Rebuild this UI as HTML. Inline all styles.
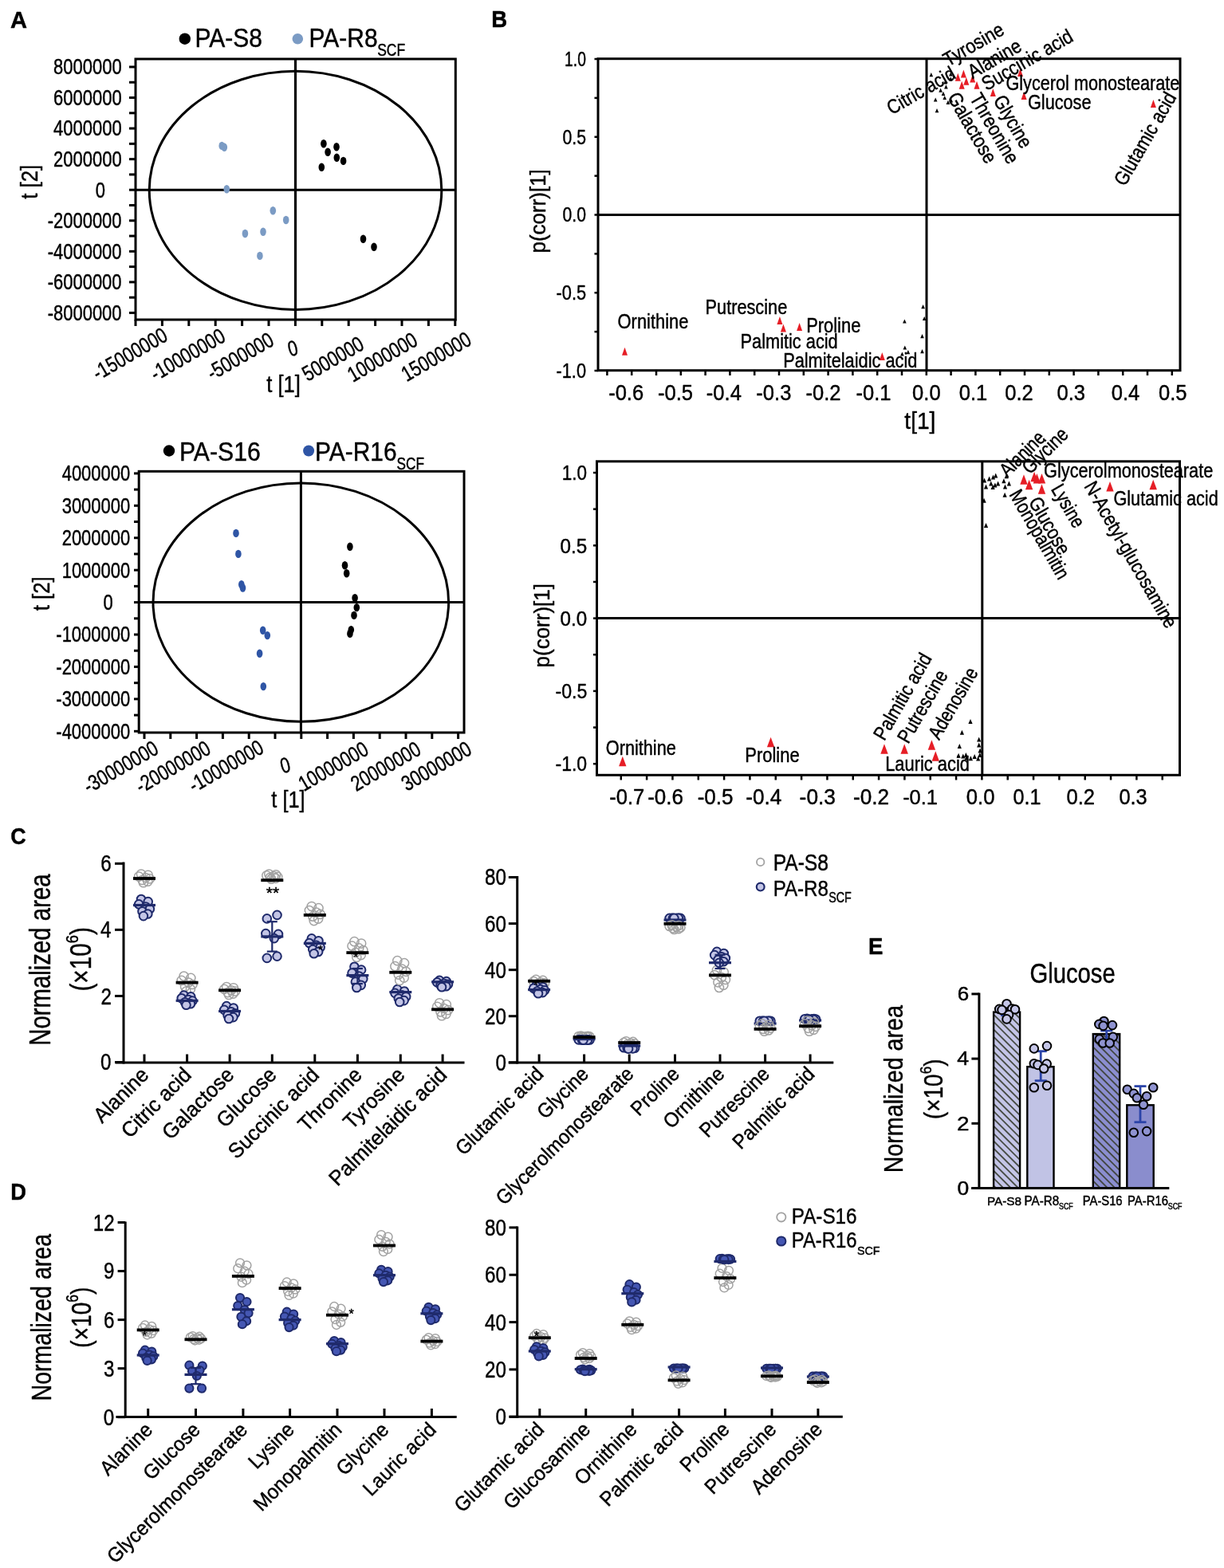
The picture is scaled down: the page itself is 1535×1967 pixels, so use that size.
<!DOCTYPE html>
<html><head><meta charset="utf-8"><title>Figure</title>
<style>html,body{margin:0;padding:0;background:#fff;}svg{display:block;}</style></head>
<body><svg width="1535" height="1967" viewBox="0 0 1535 1967" font-family="'Liberation Sans', Arial, Helvetica, sans-serif">
<style>text{stroke:#000;stroke-width:0.45px;stroke-linejoin:round;}</style>
<rect width="1535" height="1967" fill="#fff"/>
<text transform="translate(12.97,34.80) scale(1.0041,1)" font-size="28.99" font-weight="bold">A</text>
<circle cx="231.80" cy="48.70" r="7.20" fill="#000" stroke="none" stroke-width="0"/>
<text transform="translate(244.50,59.00) scale(0.8969,1)" font-size="33.43">PA-S8</text>
<circle cx="373.30" cy="48.70" r="6.80" fill="#7b9bc4" stroke="none" stroke-width="0"/>
<text transform="translate(387.61,59.00) scale(0.8953,1)" font-size="33.43">PA-R8</text>
<text transform="translate(473.21,69.50) scale(0.7850,1)" font-size="22.29">SCF</text>
<rect x="170.00" y="74.00" width="401.30" height="327.00" fill="none" stroke="#000" stroke-width="3"/>
<line x1="170.00" y1="238.20" x2="571.30" y2="238.20" stroke="#000" stroke-width="3" stroke-linecap="butt"/>
<line x1="370.50" y1="74.00" x2="370.50" y2="401.00" stroke="#000" stroke-width="3.2" stroke-linecap="butt"/>
<ellipse cx="370.50" cy="238.80" rx="183.30" ry="149.60" fill="none" stroke="#000" stroke-width="3"/>
<line x1="162.00" y1="392.44" x2="170.00" y2="392.44" stroke="#000" stroke-width="3" stroke-linecap="butt"/>
<line x1="162.00" y1="373.16" x2="170.00" y2="373.16" stroke="#000" stroke-width="3" stroke-linecap="butt"/>
<line x1="162.00" y1="353.88" x2="170.00" y2="353.88" stroke="#000" stroke-width="3" stroke-linecap="butt"/>
<line x1="162.00" y1="334.60" x2="170.00" y2="334.60" stroke="#000" stroke-width="3" stroke-linecap="butt"/>
<line x1="162.00" y1="315.32" x2="170.00" y2="315.32" stroke="#000" stroke-width="3" stroke-linecap="butt"/>
<line x1="162.00" y1="296.04" x2="170.00" y2="296.04" stroke="#000" stroke-width="3" stroke-linecap="butt"/>
<line x1="162.00" y1="276.76" x2="170.00" y2="276.76" stroke="#000" stroke-width="3" stroke-linecap="butt"/>
<line x1="162.00" y1="257.48" x2="170.00" y2="257.48" stroke="#000" stroke-width="3" stroke-linecap="butt"/>
<line x1="162.00" y1="238.20" x2="170.00" y2="238.20" stroke="#000" stroke-width="3" stroke-linecap="butt"/>
<line x1="162.00" y1="218.92" x2="170.00" y2="218.92" stroke="#000" stroke-width="3" stroke-linecap="butt"/>
<line x1="162.00" y1="199.64" x2="170.00" y2="199.64" stroke="#000" stroke-width="3" stroke-linecap="butt"/>
<line x1="162.00" y1="180.36" x2="170.00" y2="180.36" stroke="#000" stroke-width="3" stroke-linecap="butt"/>
<line x1="162.00" y1="161.08" x2="170.00" y2="161.08" stroke="#000" stroke-width="3" stroke-linecap="butt"/>
<line x1="162.00" y1="141.80" x2="170.00" y2="141.80" stroke="#000" stroke-width="3" stroke-linecap="butt"/>
<line x1="162.00" y1="122.52" x2="170.00" y2="122.52" stroke="#000" stroke-width="3" stroke-linecap="butt"/>
<line x1="162.00" y1="103.24" x2="170.00" y2="103.24" stroke="#000" stroke-width="3" stroke-linecap="butt"/>
<line x1="162.00" y1="83.96" x2="170.00" y2="83.96" stroke="#000" stroke-width="3" stroke-linecap="butt"/>
<text transform="translate(59.71,401.82) rotate(0) scale(0.8080,1)" font-size="27.20">-8000000</text>
<text transform="translate(59.71,363.26) rotate(0) scale(0.8080,1)" font-size="27.20">-6000000</text>
<text transform="translate(59.71,324.70) rotate(0) scale(0.8080,1)" font-size="27.20">-4000000</text>
<text transform="translate(59.71,286.14) rotate(0) scale(0.8080,1)" font-size="27.20">-2000000</text>
<text transform="translate(119.85,247.58) rotate(0) scale(0.8080,1)" font-size="27.20">0</text>
<text transform="translate(67.08,209.02) rotate(0) scale(0.8080,1)" font-size="27.20">2000000</text>
<text transform="translate(67.08,170.46) rotate(0) scale(0.8080,1)" font-size="27.20">4000000</text>
<text transform="translate(67.08,131.90) rotate(0) scale(0.8080,1)" font-size="27.20">6000000</text>
<text transform="translate(67.08,93.34) rotate(0) scale(0.8080,1)" font-size="27.20">8000000</text>
<line x1="170.00" y1="401.00" x2="170.00" y2="409.00" stroke="#000" stroke-width="3" stroke-linecap="butt"/>
<line x1="203.40" y1="401.00" x2="203.40" y2="409.00" stroke="#000" stroke-width="3" stroke-linecap="butt"/>
<line x1="236.80" y1="401.00" x2="236.80" y2="409.00" stroke="#000" stroke-width="3" stroke-linecap="butt"/>
<line x1="270.20" y1="401.00" x2="270.20" y2="409.00" stroke="#000" stroke-width="3" stroke-linecap="butt"/>
<line x1="303.60" y1="401.00" x2="303.60" y2="409.00" stroke="#000" stroke-width="3" stroke-linecap="butt"/>
<line x1="337.00" y1="401.00" x2="337.00" y2="409.00" stroke="#000" stroke-width="3" stroke-linecap="butt"/>
<line x1="370.40" y1="401.00" x2="370.40" y2="409.00" stroke="#000" stroke-width="3" stroke-linecap="butt"/>
<line x1="403.80" y1="401.00" x2="403.80" y2="409.00" stroke="#000" stroke-width="3" stroke-linecap="butt"/>
<line x1="437.20" y1="401.00" x2="437.20" y2="409.00" stroke="#000" stroke-width="3" stroke-linecap="butt"/>
<line x1="470.60" y1="401.00" x2="470.60" y2="409.00" stroke="#000" stroke-width="3" stroke-linecap="butt"/>
<line x1="504.00" y1="401.00" x2="504.00" y2="409.00" stroke="#000" stroke-width="3" stroke-linecap="butt"/>
<line x1="537.40" y1="401.00" x2="537.40" y2="409.00" stroke="#000" stroke-width="3" stroke-linecap="butt"/>
<line x1="570.80" y1="401.00" x2="570.80" y2="409.00" stroke="#000" stroke-width="3" stroke-linecap="butt"/>
<text transform="translate(122.86,477.73) rotate(-30) scale(0.8000,1)" font-size="27.00">-15000000</text>
<text transform="translate(195.16,478.63) rotate(-30) scale(0.8000,1)" font-size="27.00">-10000000</text>
<text transform="translate(266.35,477.64) rotate(-30) scale(0.8000,1)" font-size="27.00">-5000000</text>
<text transform="translate(363.87,447.46) rotate(-15) scale(0.8000,1)" font-size="27.00">0</text>
<text transform="translate(385.73,479.10) rotate(-30) scale(0.8000,1)" font-size="27.00">5000000</text>
<text transform="translate(442.56,480.01) rotate(-30) scale(0.8000,1)" font-size="27.00">10000000</text>
<text transform="translate(509.96,479.31) rotate(-30) scale(0.8000,1)" font-size="27.00">15000000</text>
<text transform="translate(334.22,492.33) rotate(0) scale(0.8523,1)" font-size="30.00">t [1]</text>
<text transform="translate(47.43,249.77) rotate(-90) scale(0.8600,1)" font-size="30.00">t [2]</text>
<ellipse cx="405.90" cy="180.30" rx="3.80" ry="5.20" fill="#000" stroke="none" stroke-width="0"/>
<ellipse cx="422.00" cy="184.20" rx="3.80" ry="5.20" fill="#000" stroke="none" stroke-width="0"/>
<ellipse cx="411.10" cy="190.70" rx="3.80" ry="5.20" fill="#000" stroke="none" stroke-width="0"/>
<ellipse cx="422.30" cy="197.70" rx="3.80" ry="5.20" fill="#000" stroke="none" stroke-width="0"/>
<ellipse cx="430.60" cy="201.90" rx="3.80" ry="5.20" fill="#000" stroke="none" stroke-width="0"/>
<ellipse cx="403.30" cy="209.70" rx="3.80" ry="5.20" fill="#000" stroke="none" stroke-width="0"/>
<ellipse cx="455.50" cy="299.80" rx="3.80" ry="5.20" fill="#000" stroke="none" stroke-width="0"/>
<ellipse cx="469.00" cy="309.70" rx="3.80" ry="5.20" fill="#000" stroke="none" stroke-width="0"/>
<ellipse cx="278.20" cy="182.90" rx="3.80" ry="5.20" fill="#7b9bc4" stroke="none" stroke-width="0"/>
<ellipse cx="281.30" cy="184.70" rx="3.80" ry="5.20" fill="#7b9bc4" stroke="none" stroke-width="0"/>
<ellipse cx="284.30" cy="237.30" rx="3.80" ry="5.20" fill="#7b9bc4" stroke="none" stroke-width="0"/>
<ellipse cx="342.30" cy="264.30" rx="3.80" ry="5.20" fill="#7b9bc4" stroke="none" stroke-width="0"/>
<ellipse cx="358.70" cy="276.00" rx="3.80" ry="5.20" fill="#7b9bc4" stroke="none" stroke-width="0"/>
<ellipse cx="307.40" cy="293.00" rx="3.80" ry="5.20" fill="#7b9bc4" stroke="none" stroke-width="0"/>
<ellipse cx="330.00" cy="290.70" rx="3.80" ry="5.20" fill="#7b9bc4" stroke="none" stroke-width="0"/>
<ellipse cx="325.90" cy="320.90" rx="3.80" ry="5.20" fill="#7b9bc4" stroke="none" stroke-width="0"/>
<circle cx="212.00" cy="565.50" r="7.20" fill="#000" stroke="none" stroke-width="0"/>
<text transform="translate(224.99,577.80) scale(0.8878,1)" font-size="34.00">PA-S16</text>
<circle cx="387.10" cy="565.50" r="7.00" fill="#2f55a5" stroke="none" stroke-width="0"/>
<text transform="translate(395.11,577.80) scale(0.8792,1)" font-size="34.00">PA-R16</text>
<text transform="translate(497.52,589.00) scale(0.7833,1)" font-size="22.00">SCF</text>
<rect x="174.20" y="591.30" width="407.80" height="327.70" fill="none" stroke="#000" stroke-width="3"/>
<line x1="174.20" y1="755.60" x2="582.00" y2="755.60" stroke="#000" stroke-width="3" stroke-linecap="butt"/>
<line x1="377.40" y1="591.30" x2="377.40" y2="919.00" stroke="#000" stroke-width="3" stroke-linecap="butt"/>
<ellipse cx="377.30" cy="755.60" rx="185.30" ry="149.70" fill="none" stroke="#000" stroke-width="3"/>
<line x1="168.00" y1="917.32" x2="174.20" y2="917.32" stroke="#000" stroke-width="3" stroke-linecap="butt"/>
<line x1="168.00" y1="897.11" x2="174.20" y2="897.11" stroke="#000" stroke-width="3" stroke-linecap="butt"/>
<line x1="168.00" y1="876.89" x2="174.20" y2="876.89" stroke="#000" stroke-width="3" stroke-linecap="butt"/>
<line x1="168.00" y1="856.68" x2="174.20" y2="856.68" stroke="#000" stroke-width="3" stroke-linecap="butt"/>
<line x1="168.00" y1="836.46" x2="174.20" y2="836.46" stroke="#000" stroke-width="3" stroke-linecap="butt"/>
<line x1="168.00" y1="816.25" x2="174.20" y2="816.25" stroke="#000" stroke-width="3" stroke-linecap="butt"/>
<line x1="168.00" y1="796.03" x2="174.20" y2="796.03" stroke="#000" stroke-width="3" stroke-linecap="butt"/>
<line x1="168.00" y1="775.82" x2="174.20" y2="775.82" stroke="#000" stroke-width="3" stroke-linecap="butt"/>
<line x1="168.00" y1="755.60" x2="174.20" y2="755.60" stroke="#000" stroke-width="3" stroke-linecap="butt"/>
<line x1="168.00" y1="735.38" x2="174.20" y2="735.38" stroke="#000" stroke-width="3" stroke-linecap="butt"/>
<line x1="168.00" y1="715.17" x2="174.20" y2="715.17" stroke="#000" stroke-width="3" stroke-linecap="butt"/>
<line x1="168.00" y1="694.96" x2="174.20" y2="694.96" stroke="#000" stroke-width="3" stroke-linecap="butt"/>
<line x1="168.00" y1="674.74" x2="174.20" y2="674.74" stroke="#000" stroke-width="3" stroke-linecap="butt"/>
<line x1="168.00" y1="654.52" x2="174.20" y2="654.52" stroke="#000" stroke-width="3" stroke-linecap="butt"/>
<line x1="168.00" y1="634.31" x2="174.20" y2="634.31" stroke="#000" stroke-width="3" stroke-linecap="butt"/>
<line x1="168.00" y1="614.10" x2="174.20" y2="614.10" stroke="#000" stroke-width="3" stroke-linecap="butt"/>
<line x1="168.00" y1="593.88" x2="174.20" y2="593.88" stroke="#000" stroke-width="3" stroke-linecap="butt"/>
<text transform="translate(70.31,926.70) rotate(0) scale(0.8080,1)" font-size="27.20">-4000000</text>
<text transform="translate(70.31,886.27) rotate(0) scale(0.8080,1)" font-size="27.20">-3000000</text>
<text transform="translate(70.31,845.84) rotate(0) scale(0.8080,1)" font-size="27.20">-2000000</text>
<text transform="translate(70.31,805.41) rotate(0) scale(0.8080,1)" font-size="27.20">-1000000</text>
<text transform="translate(129.55,764.98) rotate(0) scale(0.8080,1)" font-size="27.20">0</text>
<text transform="translate(77.68,724.55) rotate(0) scale(0.8080,1)" font-size="27.20">1000000</text>
<text transform="translate(77.68,684.12) rotate(0) scale(0.8080,1)" font-size="27.20">2000000</text>
<text transform="translate(77.68,643.69) rotate(0) scale(0.8080,1)" font-size="27.20">3000000</text>
<text transform="translate(77.68,603.26) rotate(0) scale(0.8080,1)" font-size="27.20">4000000</text>
<line x1="181.00" y1="919.00" x2="181.00" y2="927.00" stroke="#000" stroke-width="3" stroke-linecap="butt"/>
<line x1="213.80" y1="919.00" x2="213.80" y2="927.00" stroke="#000" stroke-width="3" stroke-linecap="butt"/>
<line x1="246.60" y1="919.00" x2="246.60" y2="927.00" stroke="#000" stroke-width="3" stroke-linecap="butt"/>
<line x1="279.40" y1="919.00" x2="279.40" y2="927.00" stroke="#000" stroke-width="3" stroke-linecap="butt"/>
<line x1="312.20" y1="919.00" x2="312.20" y2="927.00" stroke="#000" stroke-width="3" stroke-linecap="butt"/>
<line x1="345.00" y1="919.00" x2="345.00" y2="927.00" stroke="#000" stroke-width="3" stroke-linecap="butt"/>
<line x1="377.80" y1="919.00" x2="377.80" y2="927.00" stroke="#000" stroke-width="3" stroke-linecap="butt"/>
<line x1="410.60" y1="919.00" x2="410.60" y2="927.00" stroke="#000" stroke-width="3" stroke-linecap="butt"/>
<line x1="443.40" y1="919.00" x2="443.40" y2="927.00" stroke="#000" stroke-width="3" stroke-linecap="butt"/>
<line x1="476.20" y1="919.00" x2="476.20" y2="927.00" stroke="#000" stroke-width="3" stroke-linecap="butt"/>
<line x1="509.00" y1="919.00" x2="509.00" y2="927.00" stroke="#000" stroke-width="3" stroke-linecap="butt"/>
<line x1="541.80" y1="919.00" x2="541.80" y2="927.00" stroke="#000" stroke-width="3" stroke-linecap="butt"/>
<line x1="574.60" y1="919.00" x2="574.60" y2="927.00" stroke="#000" stroke-width="3" stroke-linecap="butt"/>
<text transform="translate(111.36,995.93) rotate(-30) scale(0.8000,1)" font-size="27.00">-30000000</text>
<text transform="translate(176.86,995.93) rotate(-30) scale(0.8000,1)" font-size="27.00">-20000000</text>
<text transform="translate(243.26,994.93) rotate(-30) scale(0.8000,1)" font-size="27.00">-10000000</text>
<text transform="translate(354.27,970.56) rotate(-15) scale(0.8000,1)" font-size="27.00">0</text>
<text transform="translate(380.96,993.31) rotate(-30) scale(0.8000,1)" font-size="27.00">10000000</text>
<text transform="translate(446.70,993.18) rotate(-30) scale(0.8000,1)" font-size="27.00">20000000</text>
<text transform="translate(510.29,993.12) rotate(-30) scale(0.8000,1)" font-size="27.00">30000000</text>
<text transform="translate(340.32,1013.23) rotate(0) scale(0.8439,1)" font-size="30.00">t [1]</text>
<text transform="translate(62.12,766.37) rotate(-90) scale(0.8600,1)" font-size="30.00">t [2]</text>
<ellipse cx="438.90" cy="685.70" rx="3.80" ry="5.20" fill="#000" stroke="none" stroke-width="0"/>
<ellipse cx="432.50" cy="709.20" rx="3.80" ry="5.20" fill="#000" stroke="none" stroke-width="0"/>
<ellipse cx="434.70" cy="719.30" rx="3.80" ry="5.20" fill="#000" stroke="none" stroke-width="0"/>
<ellipse cx="445.10" cy="750.10" rx="3.80" ry="5.20" fill="#000" stroke="none" stroke-width="0"/>
<ellipse cx="447.30" cy="762.10" rx="3.80" ry="5.20" fill="#000" stroke="none" stroke-width="0"/>
<ellipse cx="444.00" cy="771.90" rx="3.80" ry="5.20" fill="#000" stroke="none" stroke-width="0"/>
<ellipse cx="440.30" cy="790.10" rx="3.80" ry="5.20" fill="#000" stroke="none" stroke-width="0"/>
<ellipse cx="438.90" cy="794.90" rx="3.80" ry="5.20" fill="#000" stroke="none" stroke-width="0"/>
<ellipse cx="296.00" cy="668.90" rx="3.80" ry="5.20" fill="#2f55a5" stroke="none" stroke-width="0"/>
<ellipse cx="298.90" cy="694.90" rx="3.80" ry="5.20" fill="#2f55a5" stroke="none" stroke-width="0"/>
<ellipse cx="302.80" cy="733.30" rx="3.80" ry="5.20" fill="#2f55a5" stroke="none" stroke-width="0"/>
<ellipse cx="304.50" cy="737.50" rx="3.80" ry="5.20" fill="#2f55a5" stroke="none" stroke-width="0"/>
<ellipse cx="329.70" cy="790.70" rx="3.80" ry="5.20" fill="#2f55a5" stroke="none" stroke-width="0"/>
<ellipse cx="335.30" cy="797.10" rx="3.80" ry="5.20" fill="#2f55a5" stroke="none" stroke-width="0"/>
<ellipse cx="325.60" cy="819.70" rx="3.80" ry="5.20" fill="#2f55a5" stroke="none" stroke-width="0"/>
<ellipse cx="330.30" cy="861.10" rx="3.80" ry="5.20" fill="#2f55a5" stroke="none" stroke-width="0"/>
<text transform="translate(616.21,34.30) scale(0.9454,1)" font-size="29.13" font-weight="bold">B</text>
<rect x="750.00" y="73.70" width="730.00" height="391.00" fill="none" stroke="#000" stroke-width="3"/>
<line x1="750.00" y1="269.50" x2="1480.00" y2="269.50" stroke="#000" stroke-width="3" stroke-linecap="butt"/>
<line x1="1162.00" y1="73.70" x2="1162.00" y2="464.70" stroke="#000" stroke-width="3" stroke-linecap="butt"/>
<line x1="745.50" y1="465.00" x2="750.00" y2="465.00" stroke="#000" stroke-width="2.5" stroke-linecap="butt"/>
<line x1="745.50" y1="416.12" x2="750.00" y2="416.12" stroke="#000" stroke-width="2.5" stroke-linecap="butt"/>
<line x1="745.50" y1="367.25" x2="750.00" y2="367.25" stroke="#000" stroke-width="2.5" stroke-linecap="butt"/>
<line x1="745.50" y1="318.38" x2="750.00" y2="318.38" stroke="#000" stroke-width="2.5" stroke-linecap="butt"/>
<line x1="745.50" y1="269.50" x2="750.00" y2="269.50" stroke="#000" stroke-width="2.5" stroke-linecap="butt"/>
<line x1="745.50" y1="220.62" x2="750.00" y2="220.62" stroke="#000" stroke-width="2.5" stroke-linecap="butt"/>
<line x1="745.50" y1="171.75" x2="750.00" y2="171.75" stroke="#000" stroke-width="2.5" stroke-linecap="butt"/>
<line x1="745.50" y1="122.88" x2="750.00" y2="122.88" stroke="#000" stroke-width="2.5" stroke-linecap="butt"/>
<line x1="745.50" y1="74.00" x2="750.00" y2="74.00" stroke="#000" stroke-width="2.5" stroke-linecap="butt"/>
<text transform="translate(708.05,82.80) scale(0.7262,1)" font-size="26.57">1.0</text>
<text transform="translate(705.55,181.20) scale(0.7987,1)" font-size="26.57">0.5</text>
<text transform="translate(705.55,278.00) scale(0.7956,1)" font-size="26.57">0.0</text>
<text transform="translate(697.52,376.40) scale(0.8217,1)" font-size="26.57">-0.5</text>
<text transform="translate(697.52,473.70) scale(0.8192,1)" font-size="26.57">-1.0</text>
<line x1="761.40" y1="464.70" x2="761.40" y2="471.00" stroke="#000" stroke-width="2.5" stroke-linecap="butt"/>
<line x1="792.20" y1="464.70" x2="792.20" y2="471.00" stroke="#000" stroke-width="2.5" stroke-linecap="butt"/>
<line x1="823.00" y1="464.70" x2="823.00" y2="471.00" stroke="#000" stroke-width="2.5" stroke-linecap="butt"/>
<line x1="853.80" y1="464.70" x2="853.80" y2="471.00" stroke="#000" stroke-width="2.5" stroke-linecap="butt"/>
<line x1="884.60" y1="464.70" x2="884.60" y2="471.00" stroke="#000" stroke-width="2.5" stroke-linecap="butt"/>
<line x1="915.40" y1="464.70" x2="915.40" y2="471.00" stroke="#000" stroke-width="2.5" stroke-linecap="butt"/>
<line x1="946.20" y1="464.70" x2="946.20" y2="471.00" stroke="#000" stroke-width="2.5" stroke-linecap="butt"/>
<line x1="977.00" y1="464.70" x2="977.00" y2="471.00" stroke="#000" stroke-width="2.5" stroke-linecap="butt"/>
<line x1="1007.80" y1="464.70" x2="1007.80" y2="471.00" stroke="#000" stroke-width="2.5" stroke-linecap="butt"/>
<line x1="1038.60" y1="464.70" x2="1038.60" y2="471.00" stroke="#000" stroke-width="2.5" stroke-linecap="butt"/>
<line x1="1069.40" y1="464.70" x2="1069.40" y2="471.00" stroke="#000" stroke-width="2.5" stroke-linecap="butt"/>
<line x1="1100.20" y1="464.70" x2="1100.20" y2="471.00" stroke="#000" stroke-width="2.5" stroke-linecap="butt"/>
<line x1="1131.00" y1="464.70" x2="1131.00" y2="471.00" stroke="#000" stroke-width="2.5" stroke-linecap="butt"/>
<line x1="1161.80" y1="464.70" x2="1161.80" y2="471.00" stroke="#000" stroke-width="2.5" stroke-linecap="butt"/>
<line x1="1192.60" y1="464.70" x2="1192.60" y2="471.00" stroke="#000" stroke-width="2.5" stroke-linecap="butt"/>
<line x1="1223.40" y1="464.70" x2="1223.40" y2="471.00" stroke="#000" stroke-width="2.5" stroke-linecap="butt"/>
<line x1="1254.20" y1="464.70" x2="1254.20" y2="471.00" stroke="#000" stroke-width="2.5" stroke-linecap="butt"/>
<line x1="1285.00" y1="464.70" x2="1285.00" y2="471.00" stroke="#000" stroke-width="2.5" stroke-linecap="butt"/>
<line x1="1315.80" y1="464.70" x2="1315.80" y2="471.00" stroke="#000" stroke-width="2.5" stroke-linecap="butt"/>
<line x1="1346.60" y1="464.70" x2="1346.60" y2="471.00" stroke="#000" stroke-width="2.5" stroke-linecap="butt"/>
<line x1="1377.40" y1="464.70" x2="1377.40" y2="471.00" stroke="#000" stroke-width="2.5" stroke-linecap="butt"/>
<line x1="1408.20" y1="464.70" x2="1408.20" y2="471.00" stroke="#000" stroke-width="2.5" stroke-linecap="butt"/>
<line x1="1439.00" y1="464.70" x2="1439.00" y2="471.00" stroke="#000" stroke-width="2.5" stroke-linecap="butt"/>
<line x1="1469.80" y1="464.70" x2="1469.80" y2="471.00" stroke="#000" stroke-width="2.5" stroke-linecap="butt"/>
<text transform="translate(763.16,502.10) scale(0.9515,1)" font-size="26.86">-0.6</text>
<text transform="translate(824.96,502.10) scale(0.9515,1)" font-size="26.86">-0.5</text>
<text transform="translate(885.83,502.10) scale(0.9515,1)" font-size="26.86">-0.4</text>
<text transform="translate(948.36,502.10) scale(0.9515,1)" font-size="26.86">-0.3</text>
<text transform="translate(1010.49,502.10) scale(0.9515,1)" font-size="26.86">-0.2</text>
<text transform="translate(1073.42,502.10) scale(0.9515,1)" font-size="26.86">-0.1</text>
<text transform="translate(1144.08,502.10) scale(0.9515,1)" font-size="26.86">0.0</text>
<text transform="translate(1202.80,502.10) scale(0.9515,1)" font-size="26.86">0.1</text>
<text transform="translate(1260.27,502.10) scale(0.9515,1)" font-size="26.86">0.2</text>
<text transform="translate(1325.54,502.10) scale(0.9515,1)" font-size="26.86">0.3</text>
<text transform="translate(1393.81,502.10) scale(0.9515,1)" font-size="26.86">0.4</text>
<text transform="translate(1453.04,502.10) scale(0.9515,1)" font-size="26.86">0.5</text>
<text transform="translate(1134.33,538.22) rotate(0) scale(0.9615,1)" font-size="29.20">t[1]</text>
<text transform="translate(683.75,317.44) rotate(-90) scale(0.9609,1)" font-size="27.00">p(corr)[1]</text>
<path d="M1165.50,96.30L1167.80,91.10L1170.10,96.30Z" fill="#000"/>
<path d="M1190.00,95.40L1192.30,90.20L1194.60,95.40Z" fill="#000"/>
<path d="M1190.00,101.40L1192.30,96.20L1194.60,101.40Z" fill="#000"/>
<path d="M1183.20,105.60L1185.50,100.40L1187.80,105.60Z" fill="#000"/>
<path d="M1184.10,111.50L1186.40,106.30L1188.70,111.50Z" fill="#000"/>
<path d="M1177.30,115.80L1179.60,110.60L1181.90,115.80Z" fill="#000"/>
<path d="M1180.70,120.00L1183.00,114.80L1185.30,120.00Z" fill="#000"/>
<path d="M1182.40,125.10L1184.70,119.90L1187.00,125.10Z" fill="#000"/>
<path d="M1170.90,127.60L1173.20,122.40L1175.50,127.60Z" fill="#000"/>
<path d="M1186.60,131.00L1188.90,125.80L1191.20,131.00Z" fill="#000"/>
<path d="M1190.50,128.50L1192.80,123.30L1195.10,128.50Z" fill="#000"/>
<path d="M1172.70,141.20L1175.00,136.00L1177.30,141.20Z" fill="#000"/>
<path d="M1155.30,387.30L1157.60,382.10L1159.90,387.30Z" fill="#000"/>
<path d="M1156.90,402.10L1159.20,396.90L1161.50,402.10Z" fill="#000"/>
<path d="M1132.10,405.60L1134.40,400.40L1136.70,405.60Z" fill="#000"/>
<path d="M1154.20,424.30L1156.50,419.10L1158.80,424.30Z" fill="#000"/>
<path d="M1132.50,438.60L1134.80,433.40L1137.10,438.60Z" fill="#000"/>
<path d="M1136.60,444.30L1138.90,439.10L1141.20,444.30Z" fill="#000"/>
<path d="M1154.20,443.20L1156.50,438.00L1158.80,443.20Z" fill="#000"/>
<path d="M1129.10,446.60L1131.40,441.40L1133.70,446.60Z" fill="#000"/>
<path d="M1197.80,101.70L1201.30,91.70L1204.80,101.70Z" fill="#e61e26"/>
<path d="M1204.90,97.40L1208.40,87.40L1211.90,97.40Z" fill="#e61e26"/>
<path d="M1208.30,106.70L1211.80,96.70L1215.30,106.70Z" fill="#e61e26"/>
<path d="M1202.70,111.80L1206.20,101.80L1209.70,111.80Z" fill="#e61e26"/>
<path d="M1216.20,103.40L1219.70,93.40L1223.20,103.40Z" fill="#e61e26"/>
<path d="M1221.50,111.80L1225.00,101.80L1228.50,111.80Z" fill="#e61e26"/>
<path d="M1241.80,121.10L1245.30,111.10L1248.80,121.10Z" fill="#e61e26"/>
<path d="M1276.00,96.10L1279.50,86.10L1283.00,96.10Z" fill="#e61e26"/>
<path d="M1280.60,125.10L1284.10,115.10L1287.60,125.10Z" fill="#e61e26"/>
<path d="M1442.90,135.10L1446.40,125.10L1449.90,135.10Z" fill="#e61e26"/>
<path d="M780.00,445.70L783.50,435.70L787.00,445.70Z" fill="#e61e26"/>
<path d="M974.40,407.10L977.90,397.10L981.40,407.10Z" fill="#e61e26"/>
<path d="M978.90,416.60L982.40,406.60L985.90,416.60Z" fill="#e61e26"/>
<path d="M999.10,414.90L1002.60,404.90L1006.10,414.90Z" fill="#e61e26"/>
<path d="M1102.80,452.00L1106.30,442.00L1109.80,452.00Z" fill="#e61e26"/>
<text transform="translate(774.62,411.80) scale(0.8410,1)" font-size="26.00">Ornithine</text>
<text transform="translate(884.56,393.80) scale(0.8361,1)" font-size="26.00">Putrescine</text>
<text transform="translate(1011.15,416.60) scale(0.8427,1)" font-size="26.00">Proline</text>
<text transform="translate(928.56,437.20) scale(0.8375,1)" font-size="26.00">Palmitic acid</text>
<text transform="translate(982.16,461.10) scale(0.8377,1)" font-size="26.00">Palmitelaidic acid</text>
<text transform="translate(1261.42,112.70) scale(0.8337,1)" font-size="26.00">Glycerol monostearate</text>
<text transform="translate(1289.02,136.90) scale(0.8339,1)" font-size="26.00">Glucose</text>
<text transform="translate(1118.30,144.48) rotate(-30) scale(0.8608,1)" font-size="25.00">Citric acid</text>
<text transform="translate(1188.93,83.90) rotate(-30) scale(0.8829,1)" font-size="25.00">Tyrosine</text>
<text transform="translate(1219.79,99.14) rotate(-30) scale(0.8754,1)" font-size="25.00">Alanine</text>
<text transform="translate(1237.29,114.28) rotate(-30) scale(0.8734,1)" font-size="25.00">Succinic acid</text>
<text transform="translate(1187.42,121.96) rotate(60) scale(0.8717,1)" font-size="25.00">Galactose</text>
<text transform="translate(1215.54,123.02) rotate(60) scale(0.8658,1)" font-size="25.00">Threonine</text>
<text transform="translate(1244.88,125.47) rotate(60) scale(0.8642,1)" font-size="25.00">Glycine</text>
<text transform="translate(1410.70,234.83) rotate(-60) scale(0.8620,1)" font-size="25.00">Glutamic acid</text>
<rect x="748.50" y="578.80" width="731.00" height="393.50" fill="none" stroke="#000" stroke-width="3"/>
<line x1="748.50" y1="775.60" x2="1479.50" y2="775.60" stroke="#000" stroke-width="3" stroke-linecap="butt"/>
<line x1="1231.80" y1="578.80" x2="1231.80" y2="972.30" stroke="#000" stroke-width="3" stroke-linecap="butt"/>
<line x1="744.00" y1="958.20" x2="748.50" y2="958.20" stroke="#000" stroke-width="2.5" stroke-linecap="butt"/>
<line x1="744.00" y1="912.55" x2="748.50" y2="912.55" stroke="#000" stroke-width="2.5" stroke-linecap="butt"/>
<line x1="744.00" y1="866.90" x2="748.50" y2="866.90" stroke="#000" stroke-width="2.5" stroke-linecap="butt"/>
<line x1="744.00" y1="821.25" x2="748.50" y2="821.25" stroke="#000" stroke-width="2.5" stroke-linecap="butt"/>
<line x1="744.00" y1="775.60" x2="748.50" y2="775.60" stroke="#000" stroke-width="2.5" stroke-linecap="butt"/>
<line x1="744.00" y1="729.95" x2="748.50" y2="729.95" stroke="#000" stroke-width="2.5" stroke-linecap="butt"/>
<line x1="744.00" y1="684.30" x2="748.50" y2="684.30" stroke="#000" stroke-width="2.5" stroke-linecap="butt"/>
<line x1="744.00" y1="638.65" x2="748.50" y2="638.65" stroke="#000" stroke-width="2.5" stroke-linecap="butt"/>
<line x1="744.00" y1="593.00" x2="748.50" y2="593.00" stroke="#000" stroke-width="2.5" stroke-linecap="butt"/>
<text transform="translate(704.81,602.30) scale(0.8468,1)" font-size="26.57">1.0</text>
<text transform="translate(702.53,693.60) scale(0.9136,1)" font-size="26.57">0.5</text>
<text transform="translate(702.53,784.90) scale(0.9101,1)" font-size="26.57">0.0</text>
<text transform="translate(696.46,875.50) scale(0.8701,1)" font-size="26.57">-0.5</text>
<text transform="translate(696.46,966.90) scale(0.8674,1)" font-size="26.57">-1.0</text>
<line x1="778.78" y1="972.30" x2="778.78" y2="978.50" stroke="#000" stroke-width="2.5" stroke-linecap="butt"/>
<line x1="811.11" y1="972.30" x2="811.11" y2="978.50" stroke="#000" stroke-width="2.5" stroke-linecap="butt"/>
<line x1="843.44" y1="972.30" x2="843.44" y2="978.50" stroke="#000" stroke-width="2.5" stroke-linecap="butt"/>
<line x1="875.77" y1="972.30" x2="875.77" y2="978.50" stroke="#000" stroke-width="2.5" stroke-linecap="butt"/>
<line x1="908.10" y1="972.30" x2="908.10" y2="978.50" stroke="#000" stroke-width="2.5" stroke-linecap="butt"/>
<line x1="940.43" y1="972.30" x2="940.43" y2="978.50" stroke="#000" stroke-width="2.5" stroke-linecap="butt"/>
<line x1="972.76" y1="972.30" x2="972.76" y2="978.50" stroke="#000" stroke-width="2.5" stroke-linecap="butt"/>
<line x1="1005.09" y1="972.30" x2="1005.09" y2="978.50" stroke="#000" stroke-width="2.5" stroke-linecap="butt"/>
<line x1="1037.42" y1="972.30" x2="1037.42" y2="978.50" stroke="#000" stroke-width="2.5" stroke-linecap="butt"/>
<line x1="1069.75" y1="972.30" x2="1069.75" y2="978.50" stroke="#000" stroke-width="2.5" stroke-linecap="butt"/>
<line x1="1102.08" y1="972.30" x2="1102.08" y2="978.50" stroke="#000" stroke-width="2.5" stroke-linecap="butt"/>
<line x1="1134.41" y1="972.30" x2="1134.41" y2="978.50" stroke="#000" stroke-width="2.5" stroke-linecap="butt"/>
<line x1="1166.74" y1="972.30" x2="1166.74" y2="978.50" stroke="#000" stroke-width="2.5" stroke-linecap="butt"/>
<line x1="1199.07" y1="972.30" x2="1199.07" y2="978.50" stroke="#000" stroke-width="2.5" stroke-linecap="butt"/>
<line x1="1231.40" y1="972.30" x2="1231.40" y2="978.50" stroke="#000" stroke-width="2.5" stroke-linecap="butt"/>
<line x1="1263.73" y1="972.30" x2="1263.73" y2="978.50" stroke="#000" stroke-width="2.5" stroke-linecap="butt"/>
<line x1="1296.06" y1="972.30" x2="1296.06" y2="978.50" stroke="#000" stroke-width="2.5" stroke-linecap="butt"/>
<line x1="1328.39" y1="972.30" x2="1328.39" y2="978.50" stroke="#000" stroke-width="2.5" stroke-linecap="butt"/>
<line x1="1360.72" y1="972.30" x2="1360.72" y2="978.50" stroke="#000" stroke-width="2.5" stroke-linecap="butt"/>
<line x1="1393.05" y1="972.30" x2="1393.05" y2="978.50" stroke="#000" stroke-width="2.5" stroke-linecap="butt"/>
<line x1="1425.38" y1="972.30" x2="1425.38" y2="978.50" stroke="#000" stroke-width="2.5" stroke-linecap="butt"/>
<line x1="1457.71" y1="972.30" x2="1457.71" y2="978.50" stroke="#000" stroke-width="2.5" stroke-linecap="butt"/>
<text transform="translate(764.25,1009.30) scale(0.9560,1)" font-size="26.71">-0.7</text>
<text transform="translate(812.13,1009.30) scale(0.9730,1)" font-size="26.71">-0.6</text>
<text transform="translate(874.63,1009.30) scale(0.9730,1)" font-size="26.71">-0.5</text>
<text transform="translate(935.22,1009.30) scale(0.9785,1)" font-size="26.71">-0.4</text>
<text transform="translate(1002.62,1009.30) scale(0.9845,1)" font-size="26.71">-0.3</text>
<text transform="translate(1070.02,1009.30) scale(0.9790,1)" font-size="26.71">-0.2</text>
<text transform="translate(1132.15,1009.30) scale(0.9531,1)" font-size="26.71">-0.1</text>
<text transform="translate(1211.87,1009.30) scale(0.9593,1)" font-size="26.71">0.0</text>
<text transform="translate(1270.49,1009.30) scale(0.9408,1)" font-size="26.71">0.1</text>
<text transform="translate(1337.48,1009.30) scale(0.9560,1)" font-size="26.71">0.2</text>
<text transform="translate(1403.39,1009.30) scale(0.9487,1)" font-size="26.71">0.3</text>
<text transform="translate(689.25,837.44) rotate(-90) scale(0.9628,1)" font-size="27.00">p(corr)[1]</text>
<path d="M1214.40,908.00L1217.00,902.00L1219.60,908.00Z" fill="#000"/>
<path d="M1203.80,921.80L1206.40,915.80L1209.00,921.80Z" fill="#000"/>
<path d="M1200.70,938.90L1203.30,932.90L1205.90,938.90Z" fill="#000"/>
<path d="M1225.10,930.40L1227.70,924.40L1230.30,930.40Z" fill="#000"/>
<path d="M1225.10,937.50L1227.70,931.50L1230.30,937.50Z" fill="#000"/>
<path d="M1199.50,950.70L1202.10,944.70L1204.70,950.70Z" fill="#000"/>
<path d="M1205.20,951.40L1207.80,945.40L1210.40,951.40Z" fill="#000"/>
<path d="M1208.80,949.90L1211.40,943.90L1214.00,949.90Z" fill="#000"/>
<path d="M1209.50,953.50L1212.10,947.50L1214.70,953.50Z" fill="#000"/>
<path d="M1214.80,954.20L1217.40,948.20L1220.00,954.20Z" fill="#000"/>
<path d="M1219.60,952.10L1222.20,946.10L1224.80,952.10Z" fill="#000"/>
<path d="M1224.10,954.60L1226.70,948.60L1229.30,954.60Z" fill="#000"/>
<path d="M1226.20,949.90L1228.80,943.90L1231.40,949.90Z" fill="#000"/>
<path d="M1226.50,944.60L1229.10,938.60L1231.70,944.60Z" fill="#000"/>
<path d="M1231.90,605.50L1234.50,599.50L1237.10,605.50Z" fill="#000"/>
<path d="M1238.00,603.50L1240.60,597.50L1243.20,603.50Z" fill="#000"/>
<path d="M1242.90,601.40L1245.50,595.40L1248.10,601.40Z" fill="#000"/>
<path d="M1246.10,599.40L1248.70,593.40L1251.30,599.40Z" fill="#000"/>
<path d="M1240.20,609.60L1242.80,603.60L1245.40,609.60Z" fill="#000"/>
<path d="M1245.30,611.60L1247.90,605.60L1250.50,611.60Z" fill="#000"/>
<path d="M1249.00,609.60L1251.60,603.60L1254.20,609.60Z" fill="#000"/>
<path d="M1233.90,613.60L1236.50,607.60L1239.10,613.60Z" fill="#000"/>
<path d="M1242.50,614.00L1245.10,608.00L1247.70,614.00Z" fill="#000"/>
<path d="M1259.60,600.20L1262.20,594.20L1264.80,600.20Z" fill="#000"/>
<path d="M1256.30,606.30L1258.90,600.30L1261.50,606.30Z" fill="#000"/>
<path d="M1262.80,609.60L1265.40,603.60L1268.00,609.60Z" fill="#000"/>
<path d="M1257.90,613.60L1260.50,607.60L1263.10,613.60Z" fill="#000"/>
<path d="M1257.50,623.80L1260.10,617.80L1262.70,623.80Z" fill="#000"/>
<path d="M1231.50,630.70L1234.10,624.70L1236.70,630.70Z" fill="#000"/>
<path d="M1233.90,662.00L1236.50,656.00L1239.10,662.00Z" fill="#000"/>
<path d="M776.10,961.15L780.80,948.65L785.50,961.15Z" fill="#e61e26"/>
<path d="M961.90,937.25L966.60,924.75L971.30,937.25Z" fill="#e61e26"/>
<path d="M1104.30,945.65L1109.00,933.15L1113.70,945.65Z" fill="#e61e26"/>
<path d="M1129.50,945.65L1134.20,933.15L1138.90,945.65Z" fill="#e61e26"/>
<path d="M1163.70,940.85L1168.40,928.35L1173.10,940.85Z" fill="#e61e26"/>
<path d="M1168.60,954.65L1173.30,942.15L1178.00,954.65Z" fill="#e61e26"/>
<path d="M1279.30,607.65L1284.00,595.15L1288.70,607.65Z" fill="#e61e26"/>
<path d="M1285.90,614.25L1290.60,601.75L1295.30,614.25Z" fill="#e61e26"/>
<path d="M1292.40,604.35L1297.10,591.85L1301.80,604.35Z" fill="#e61e26"/>
<path d="M1295.70,606.55L1300.40,594.05L1305.10,606.55Z" fill="#e61e26"/>
<path d="M1301.80,606.55L1306.50,594.05L1311.20,606.55Z" fill="#e61e26"/>
<path d="M1301.80,619.65L1306.50,607.15L1311.20,619.65Z" fill="#e61e26"/>
<path d="M1387.30,616.45L1392.00,603.95L1396.70,616.45Z" fill="#e61e26"/>
<path d="M1441.50,614.25L1446.20,601.75L1450.90,614.25Z" fill="#e61e26"/>
<text transform="translate(759.82,947.10) scale(0.8506,1)" font-size="25.50">Ornithine</text>
<text transform="translate(934.24,956.10) scale(0.8631,1)" font-size="25.50">Proline</text>
<text transform="translate(1110.15,966.90) scale(0.8579,1)" font-size="25.50">Lauric acid</text>
<text transform="translate(1309.11,599.40) scale(0.8511,1)" font-size="25.50">Glycerolmonostearate</text>
<text transform="translate(1396.42,634.30) scale(0.8503,1)" font-size="25.50">Glutamic acid</text>
<text transform="translate(1108.98,930.18) rotate(-60) scale(0.8608,1)" font-size="25.00">Palmitic acid</text>
<text transform="translate(1139.09,933.88) rotate(-60) scale(0.8522,1)" font-size="25.00">Putrescine</text>
<text transform="translate(1177.74,929.20) rotate(-60) scale(0.8376,1)" font-size="25.00">Adenosine</text>
<text transform="translate(1263.58,599.66) rotate(-45) scale(0.8267,1)" font-size="25.00">Alanine</text>
<text transform="translate(1291.67,595.94) rotate(-45) scale(0.8395,1)" font-size="25.00">Glycine</text>
<text transform="translate(1317.60,613.45) rotate(60) scale(0.8220,1)" font-size="25.00">Lysine</text>
<text transform="translate(1289.27,629.49) rotate(60) scale(0.8627,1)" font-size="25.00">Glucose</text>
<text transform="translate(1265.08,620.23) rotate(60) scale(0.8414,1)" font-size="25.00">Monopalmitin</text>
<text transform="translate(1358.92,609.97) rotate(60) scale(0.8542,1)" font-size="25.00">N-Acetyl-glucosamine</text>
<text transform="translate(13.23,1058.60) scale(0.9311,1)" font-size="28.86" font-weight="bold">C</text>
<text transform="translate(62.80,1204.10) rotate(-90) scale(0.8114,1)" font-size="36.20" text-anchor="middle">Normalized area</text>
<text transform="translate(114.00,1203.40) rotate(-90) scale(0.8027,1)" font-size="37.00" text-anchor="middle">(×10<tspan font-size="22.94" dy="-15.54">6</tspan><tspan dy="15.54">)</tspan></text>
<line x1="155.00" y1="1081.50" x2="155.00" y2="1334.50" stroke="#000" stroke-width="3" stroke-linecap="butt"/>
<line x1="144.60" y1="1333.00" x2="582.50" y2="1333.00" stroke="#000" stroke-width="3" stroke-linecap="butt"/>
<line x1="144.00" y1="1332.50" x2="155.00" y2="1332.50" stroke="#000" stroke-width="3" stroke-linecap="butt"/>
<line x1="144.00" y1="1249.44" x2="155.00" y2="1249.44" stroke="#000" stroke-width="3" stroke-linecap="butt"/>
<line x1="144.00" y1="1166.38" x2="155.00" y2="1166.38" stroke="#000" stroke-width="3" stroke-linecap="butt"/>
<line x1="144.00" y1="1083.32" x2="155.00" y2="1083.32" stroke="#000" stroke-width="3" stroke-linecap="butt"/>
<text transform="translate(126.12,1342.44) rotate(0) scale(0.8400,1)" font-size="28.80">0</text>
<text transform="translate(126.48,1259.52) rotate(0) scale(0.8400,1)" font-size="28.80">2</text>
<text transform="translate(126.00,1176.32) rotate(0) scale(0.8400,1)" font-size="28.80">4</text>
<text transform="translate(126.24,1093.26) rotate(0) scale(0.8400,1)" font-size="28.80">6</text>
<line x1="181.00" y1="1333.00" x2="181.00" y2="1322.50" stroke="#000" stroke-width="3" stroke-linecap="butt"/>
<line x1="234.60" y1="1333.00" x2="234.60" y2="1322.50" stroke="#000" stroke-width="3" stroke-linecap="butt"/>
<line x1="288.10" y1="1333.00" x2="288.10" y2="1322.50" stroke="#000" stroke-width="3" stroke-linecap="butt"/>
<line x1="341.30" y1="1333.00" x2="341.30" y2="1322.50" stroke="#000" stroke-width="3" stroke-linecap="butt"/>
<line x1="394.80" y1="1333.00" x2="394.80" y2="1322.50" stroke="#000" stroke-width="3" stroke-linecap="butt"/>
<line x1="448.40" y1="1333.00" x2="448.40" y2="1322.50" stroke="#000" stroke-width="3" stroke-linecap="butt"/>
<line x1="502.30" y1="1333.00" x2="502.30" y2="1322.50" stroke="#000" stroke-width="3" stroke-linecap="butt"/>
<line x1="555.10" y1="1333.00" x2="555.10" y2="1322.50" stroke="#000" stroke-width="3" stroke-linecap="butt"/>
<circle cx="177.02" cy="1096.50" r="5.60" fill="none" stroke="#a2a2a2" stroke-width="1.5"/>
<circle cx="185.71" cy="1097.78" r="5.60" fill="none" stroke="#a2a2a2" stroke-width="1.5"/>
<circle cx="174.12" cy="1099.50" r="5.60" fill="none" stroke="#a2a2a2" stroke-width="1.5"/>
<circle cx="182.81" cy="1100.99" r="5.60" fill="none" stroke="#a2a2a2" stroke-width="1.5"/>
<circle cx="187.88" cy="1102.38" r="5.60" fill="none" stroke="#a2a2a2" stroke-width="1.5"/>
<circle cx="178.46" cy="1103.99" r="5.60" fill="none" stroke="#a2a2a2" stroke-width="1.5"/>
<circle cx="185.35" cy="1105.70" r="5.60" fill="none" stroke="#a2a2a2" stroke-width="1.5"/>
<circle cx="179.91" cy="1107.20" r="5.60" fill="none" stroke="#a2a2a2" stroke-width="1.5"/>
<circle cx="177.02" cy="1128.00" r="5.30" fill="#c3c5e6" stroke="#1f2a6b" stroke-width="2.0"/>
<circle cx="185.71" cy="1131.16" r="5.30" fill="#c3c5e6" stroke="#1f2a6b" stroke-width="2.0"/>
<circle cx="174.12" cy="1134.33" r="5.30" fill="#c3c5e6" stroke="#1f2a6b" stroke-width="2.0"/>
<circle cx="182.81" cy="1137.50" r="5.30" fill="#c3c5e6" stroke="#1f2a6b" stroke-width="2.0"/>
<circle cx="187.88" cy="1140.24" r="5.30" fill="#c3c5e6" stroke="#1f2a6b" stroke-width="2.0"/>
<circle cx="178.46" cy="1143.19" r="5.30" fill="#c3c5e6" stroke="#1f2a6b" stroke-width="2.0"/>
<circle cx="185.35" cy="1146.57" r="5.30" fill="#c3c5e6" stroke="#1f2a6b" stroke-width="2.0"/>
<circle cx="179.91" cy="1149.10" r="5.30" fill="#c3c5e6" stroke="#1f2a6b" stroke-width="2.0"/>
<line x1="167.00" y1="1135.50" x2="195.00" y2="1135.50" stroke="#1f2a6b" stroke-width="3.2" stroke-linecap="butt"/>
<line x1="167.00" y1="1102.00" x2="195.00" y2="1102.00" stroke="#000" stroke-width="3.8" stroke-linecap="butt"/>
<circle cx="230.62" cy="1224.60" r="5.60" fill="none" stroke="#a2a2a2" stroke-width="1.5"/>
<circle cx="239.31" cy="1226.87" r="5.60" fill="none" stroke="#a2a2a2" stroke-width="1.5"/>
<circle cx="227.72" cy="1229.89" r="5.60" fill="none" stroke="#a2a2a2" stroke-width="1.5"/>
<circle cx="236.41" cy="1232.54" r="5.60" fill="none" stroke="#a2a2a2" stroke-width="1.5"/>
<circle cx="241.48" cy="1234.99" r="5.60" fill="none" stroke="#a2a2a2" stroke-width="1.5"/>
<circle cx="232.06" cy="1237.83" r="5.60" fill="none" stroke="#a2a2a2" stroke-width="1.5"/>
<circle cx="238.95" cy="1240.85" r="5.60" fill="none" stroke="#a2a2a2" stroke-width="1.5"/>
<circle cx="233.51" cy="1243.50" r="5.60" fill="none" stroke="#a2a2a2" stroke-width="1.5"/>
<circle cx="230.62" cy="1248.60" r="5.30" fill="#c3c5e6" stroke="#1f2a6b" stroke-width="2.0"/>
<circle cx="239.31" cy="1250.41" r="5.30" fill="#c3c5e6" stroke="#1f2a6b" stroke-width="2.0"/>
<circle cx="227.72" cy="1252.23" r="5.30" fill="#c3c5e6" stroke="#1f2a6b" stroke-width="2.0"/>
<circle cx="236.41" cy="1254.05" r="5.30" fill="#c3c5e6" stroke="#1f2a6b" stroke-width="2.0"/>
<circle cx="241.48" cy="1255.62" r="5.30" fill="#c3c5e6" stroke="#1f2a6b" stroke-width="2.0"/>
<circle cx="232.06" cy="1257.31" r="5.30" fill="#c3c5e6" stroke="#1f2a6b" stroke-width="2.0"/>
<circle cx="238.95" cy="1259.25" r="5.30" fill="#c3c5e6" stroke="#1f2a6b" stroke-width="2.0"/>
<circle cx="233.51" cy="1260.70" r="5.30" fill="#c3c5e6" stroke="#1f2a6b" stroke-width="2.0"/>
<line x1="220.60" y1="1255.30" x2="248.60" y2="1255.30" stroke="#1f2a6b" stroke-width="3.2" stroke-linecap="butt"/>
<line x1="220.60" y1="1232.60" x2="248.60" y2="1232.60" stroke="#000" stroke-width="3.8" stroke-linecap="butt"/>
<circle cx="284.12" cy="1238.10" r="5.60" fill="none" stroke="#a2a2a2" stroke-width="1.5"/>
<circle cx="292.81" cy="1239.29" r="5.60" fill="none" stroke="#a2a2a2" stroke-width="1.5"/>
<circle cx="281.22" cy="1240.87" r="5.60" fill="none" stroke="#a2a2a2" stroke-width="1.5"/>
<circle cx="289.91" cy="1242.26" r="5.60" fill="none" stroke="#a2a2a2" stroke-width="1.5"/>
<circle cx="294.98" cy="1243.55" r="5.60" fill="none" stroke="#a2a2a2" stroke-width="1.5"/>
<circle cx="285.56" cy="1245.03" r="5.60" fill="none" stroke="#a2a2a2" stroke-width="1.5"/>
<circle cx="292.45" cy="1246.61" r="5.60" fill="none" stroke="#a2a2a2" stroke-width="1.5"/>
<circle cx="287.01" cy="1248.00" r="5.60" fill="none" stroke="#a2a2a2" stroke-width="1.5"/>
<circle cx="284.12" cy="1262.10" r="5.30" fill="#c3c5e6" stroke="#1f2a6b" stroke-width="2.0"/>
<circle cx="292.81" cy="1264.48" r="5.30" fill="#c3c5e6" stroke="#1f2a6b" stroke-width="2.0"/>
<circle cx="281.22" cy="1266.87" r="5.30" fill="#c3c5e6" stroke="#1f2a6b" stroke-width="2.0"/>
<circle cx="289.91" cy="1269.25" r="5.30" fill="#c3c5e6" stroke="#1f2a6b" stroke-width="2.0"/>
<circle cx="294.98" cy="1271.32" r="5.30" fill="#c3c5e6" stroke="#1f2a6b" stroke-width="2.0"/>
<circle cx="285.56" cy="1273.55" r="5.30" fill="#c3c5e6" stroke="#1f2a6b" stroke-width="2.0"/>
<circle cx="292.45" cy="1276.09" r="5.30" fill="#c3c5e6" stroke="#1f2a6b" stroke-width="2.0"/>
<circle cx="287.01" cy="1278.00" r="5.30" fill="#c3c5e6" stroke="#1f2a6b" stroke-width="2.0"/>
<line x1="274.10" y1="1268.50" x2="302.10" y2="1268.50" stroke="#1f2a6b" stroke-width="3.2" stroke-linecap="butt"/>
<line x1="274.10" y1="1242.30" x2="302.10" y2="1242.30" stroke="#000" stroke-width="3.8" stroke-linecap="butt"/>
<circle cx="337.32" cy="1096.50" r="5.60" fill="none" stroke="#a2a2a2" stroke-width="1.5"/>
<circle cx="346.01" cy="1097.24" r="5.60" fill="none" stroke="#a2a2a2" stroke-width="1.5"/>
<circle cx="334.42" cy="1098.24" r="5.60" fill="none" stroke="#a2a2a2" stroke-width="1.5"/>
<circle cx="343.11" cy="1099.10" r="5.60" fill="none" stroke="#a2a2a2" stroke-width="1.5"/>
<circle cx="348.18" cy="1099.91" r="5.60" fill="none" stroke="#a2a2a2" stroke-width="1.5"/>
<circle cx="338.76" cy="1100.84" r="5.60" fill="none" stroke="#a2a2a2" stroke-width="1.5"/>
<circle cx="345.65" cy="1101.83" r="5.60" fill="none" stroke="#a2a2a2" stroke-width="1.5"/>
<circle cx="340.21" cy="1102.70" r="5.60" fill="none" stroke="#a2a2a2" stroke-width="1.5"/>
<circle cx="334.80" cy="1152.40" r="5.30" fill="#c3c5e6" stroke="#1f2a6b" stroke-width="2.0"/>
<circle cx="347.50" cy="1147.90" r="5.30" fill="#c3c5e6" stroke="#1f2a6b" stroke-width="2.0"/>
<circle cx="333.30" cy="1171.10" r="5.30" fill="#c3c5e6" stroke="#1f2a6b" stroke-width="2.0"/>
<circle cx="349.00" cy="1171.90" r="5.30" fill="#c3c5e6" stroke="#1f2a6b" stroke-width="2.0"/>
<circle cx="343.80" cy="1177.10" r="5.30" fill="#c3c5e6" stroke="#1f2a6b" stroke-width="2.0"/>
<circle cx="334.80" cy="1201.90" r="5.30" fill="#c3c5e6" stroke="#1f2a6b" stroke-width="2.0"/>
<circle cx="347.50" cy="1199.60" r="5.30" fill="#c3c5e6" stroke="#1f2a6b" stroke-width="2.0"/>
<line x1="341.30" y1="1156.20" x2="341.30" y2="1193.60" stroke="#1f2a6b" stroke-width="2.2" stroke-linecap="butt"/>
<line x1="334.80" y1="1156.20" x2="347.80" y2="1156.20" stroke="#1f2a6b" stroke-width="2.2" stroke-linecap="butt"/>
<line x1="334.80" y1="1193.60" x2="347.80" y2="1193.60" stroke="#1f2a6b" stroke-width="2.2" stroke-linecap="butt"/>
<line x1="327.30" y1="1174.90" x2="355.30" y2="1174.90" stroke="#1f2a6b" stroke-width="3.2" stroke-linecap="butt"/>
<line x1="327.30" y1="1104.20" x2="355.30" y2="1104.20" stroke="#000" stroke-width="3.8" stroke-linecap="butt"/>
<text transform="translate(333.81,1126.82) rotate(0) scale(1.0000,1)" font-size="21.00">**</text>
<circle cx="390.82" cy="1137.00" r="5.60" fill="none" stroke="#a2a2a2" stroke-width="1.5"/>
<circle cx="399.51" cy="1139.17" r="5.60" fill="none" stroke="#a2a2a2" stroke-width="1.5"/>
<circle cx="387.92" cy="1142.07" r="5.60" fill="none" stroke="#a2a2a2" stroke-width="1.5"/>
<circle cx="396.61" cy="1144.60" r="5.60" fill="none" stroke="#a2a2a2" stroke-width="1.5"/>
<circle cx="401.68" cy="1146.96" r="5.60" fill="none" stroke="#a2a2a2" stroke-width="1.5"/>
<circle cx="392.26" cy="1149.67" r="5.60" fill="none" stroke="#a2a2a2" stroke-width="1.5"/>
<circle cx="399.15" cy="1152.57" r="5.60" fill="none" stroke="#a2a2a2" stroke-width="1.5"/>
<circle cx="393.71" cy="1155.10" r="5.60" fill="none" stroke="#a2a2a2" stroke-width="1.5"/>
<circle cx="390.82" cy="1177.40" r="5.30" fill="#c3c5e6" stroke="#1f2a6b" stroke-width="2.0"/>
<circle cx="399.51" cy="1180.23" r="5.30" fill="#c3c5e6" stroke="#1f2a6b" stroke-width="2.0"/>
<circle cx="387.92" cy="1183.07" r="5.30" fill="#c3c5e6" stroke="#1f2a6b" stroke-width="2.0"/>
<circle cx="396.61" cy="1185.90" r="5.30" fill="#c3c5e6" stroke="#1f2a6b" stroke-width="2.0"/>
<circle cx="401.68" cy="1188.36" r="5.30" fill="#c3c5e6" stroke="#1f2a6b" stroke-width="2.0"/>
<circle cx="392.26" cy="1191.01" r="5.30" fill="#c3c5e6" stroke="#1f2a6b" stroke-width="2.0"/>
<circle cx="399.15" cy="1194.03" r="5.30" fill="#c3c5e6" stroke="#1f2a6b" stroke-width="2.0"/>
<circle cx="393.71" cy="1196.30" r="5.30" fill="#c3c5e6" stroke="#1f2a6b" stroke-width="2.0"/>
<line x1="380.80" y1="1183.40" x2="408.80" y2="1183.40" stroke="#1f2a6b" stroke-width="3.2" stroke-linecap="butt"/>
<line x1="380.80" y1="1147.90" x2="408.80" y2="1147.90" stroke="#000" stroke-width="3.8" stroke-linecap="butt"/>
<circle cx="444.42" cy="1181.20" r="5.60" fill="none" stroke="#a2a2a2" stroke-width="1.5"/>
<circle cx="453.11" cy="1183.55" r="5.60" fill="none" stroke="#a2a2a2" stroke-width="1.5"/>
<circle cx="441.52" cy="1186.69" r="5.60" fill="none" stroke="#a2a2a2" stroke-width="1.5"/>
<circle cx="450.21" cy="1189.43" r="5.60" fill="none" stroke="#a2a2a2" stroke-width="1.5"/>
<circle cx="455.28" cy="1191.98" r="5.60" fill="none" stroke="#a2a2a2" stroke-width="1.5"/>
<circle cx="445.86" cy="1194.92" r="5.60" fill="none" stroke="#a2a2a2" stroke-width="1.5"/>
<circle cx="452.75" cy="1198.06" r="5.60" fill="none" stroke="#a2a2a2" stroke-width="1.5"/>
<circle cx="447.31" cy="1200.80" r="5.60" fill="none" stroke="#a2a2a2" stroke-width="1.5"/>
<circle cx="444.42" cy="1212.70" r="5.30" fill="#c3c5e6" stroke="#1f2a6b" stroke-width="2.0"/>
<circle cx="453.11" cy="1216.64" r="5.30" fill="#c3c5e6" stroke="#1f2a6b" stroke-width="2.0"/>
<circle cx="441.52" cy="1220.59" r="5.30" fill="#c3c5e6" stroke="#1f2a6b" stroke-width="2.0"/>
<circle cx="450.21" cy="1224.54" r="5.30" fill="#c3c5e6" stroke="#1f2a6b" stroke-width="2.0"/>
<circle cx="455.28" cy="1227.95" r="5.30" fill="#c3c5e6" stroke="#1f2a6b" stroke-width="2.0"/>
<circle cx="445.86" cy="1231.64" r="5.30" fill="#c3c5e6" stroke="#1f2a6b" stroke-width="2.0"/>
<circle cx="452.75" cy="1235.84" r="5.30" fill="#c3c5e6" stroke="#1f2a6b" stroke-width="2.0"/>
<circle cx="447.31" cy="1239.00" r="5.30" fill="#c3c5e6" stroke="#1f2a6b" stroke-width="2.0"/>
<line x1="448.40" y1="1215.00" x2="448.40" y2="1234.00" stroke="#1f2a6b" stroke-width="2.2" stroke-linecap="butt"/>
<line x1="441.90" y1="1215.00" x2="454.90" y2="1215.00" stroke="#1f2a6b" stroke-width="2.2" stroke-linecap="butt"/>
<line x1="441.90" y1="1234.00" x2="454.90" y2="1234.00" stroke="#1f2a6b" stroke-width="2.2" stroke-linecap="butt"/>
<line x1="434.40" y1="1223.60" x2="462.40" y2="1223.60" stroke="#1f2a6b" stroke-width="3.2" stroke-linecap="butt"/>
<line x1="434.40" y1="1195.10" x2="462.40" y2="1195.10" stroke="#000" stroke-width="3.8" stroke-linecap="butt"/>
<circle cx="498.32" cy="1241.10" r="5.30" fill="#c3c5e6" stroke="#1f2a6b" stroke-width="2.0"/>
<circle cx="507.01" cy="1243.48" r="5.30" fill="#c3c5e6" stroke="#1f2a6b" stroke-width="2.0"/>
<circle cx="495.42" cy="1245.87" r="5.30" fill="#c3c5e6" stroke="#1f2a6b" stroke-width="2.0"/>
<circle cx="504.11" cy="1248.25" r="5.30" fill="#c3c5e6" stroke="#1f2a6b" stroke-width="2.0"/>
<circle cx="509.18" cy="1250.32" r="5.30" fill="#c3c5e6" stroke="#1f2a6b" stroke-width="2.0"/>
<circle cx="499.76" cy="1252.55" r="5.30" fill="#c3c5e6" stroke="#1f2a6b" stroke-width="2.0"/>
<circle cx="506.65" cy="1255.09" r="5.30" fill="#c3c5e6" stroke="#1f2a6b" stroke-width="2.0"/>
<circle cx="501.21" cy="1257.00" r="5.30" fill="#c3c5e6" stroke="#1f2a6b" stroke-width="2.0"/>
<line x1="488.30" y1="1244.60" x2="516.30" y2="1244.60" stroke="#1f2a6b" stroke-width="3.2" stroke-linecap="butt"/>
<circle cx="498.32" cy="1205.20" r="5.60" fill="none" stroke="#a2a2a2" stroke-width="1.5"/>
<circle cx="507.01" cy="1208.18" r="5.60" fill="none" stroke="#a2a2a2" stroke-width="1.5"/>
<circle cx="495.42" cy="1212.14" r="5.60" fill="none" stroke="#a2a2a2" stroke-width="1.5"/>
<circle cx="504.11" cy="1215.62" r="5.60" fill="none" stroke="#a2a2a2" stroke-width="1.5"/>
<circle cx="509.18" cy="1218.84" r="5.60" fill="none" stroke="#a2a2a2" stroke-width="1.5"/>
<circle cx="499.76" cy="1222.56" r="5.60" fill="none" stroke="#a2a2a2" stroke-width="1.5"/>
<circle cx="506.65" cy="1226.53" r="5.60" fill="none" stroke="#a2a2a2" stroke-width="1.5"/>
<circle cx="501.21" cy="1230.00" r="5.60" fill="none" stroke="#a2a2a2" stroke-width="1.5"/>
<line x1="488.30" y1="1219.80" x2="516.30" y2="1219.80" stroke="#000" stroke-width="3.8" stroke-linecap="butt"/>
<circle cx="551.12" cy="1258.30" r="5.60" fill="none" stroke="#a2a2a2" stroke-width="1.5"/>
<circle cx="559.81" cy="1260.21" r="5.60" fill="none" stroke="#a2a2a2" stroke-width="1.5"/>
<circle cx="548.22" cy="1262.75" r="5.60" fill="none" stroke="#a2a2a2" stroke-width="1.5"/>
<circle cx="556.91" cy="1264.98" r="5.60" fill="none" stroke="#a2a2a2" stroke-width="1.5"/>
<circle cx="561.98" cy="1267.05" r="5.60" fill="none" stroke="#a2a2a2" stroke-width="1.5"/>
<circle cx="552.56" cy="1269.43" r="5.60" fill="none" stroke="#a2a2a2" stroke-width="1.5"/>
<circle cx="559.45" cy="1271.97" r="5.60" fill="none" stroke="#a2a2a2" stroke-width="1.5"/>
<circle cx="554.01" cy="1274.20" r="5.60" fill="none" stroke="#a2a2a2" stroke-width="1.5"/>
<circle cx="551.12" cy="1229.90" r="5.30" fill="#c3c5e6" stroke="#1f2a6b" stroke-width="2.0"/>
<circle cx="559.81" cy="1231.16" r="5.30" fill="#c3c5e6" stroke="#1f2a6b" stroke-width="2.0"/>
<circle cx="548.22" cy="1232.42" r="5.30" fill="#c3c5e6" stroke="#1f2a6b" stroke-width="2.0"/>
<circle cx="556.91" cy="1233.68" r="5.30" fill="#c3c5e6" stroke="#1f2a6b" stroke-width="2.0"/>
<circle cx="561.98" cy="1234.77" r="5.30" fill="#c3c5e6" stroke="#1f2a6b" stroke-width="2.0"/>
<circle cx="552.56" cy="1235.95" r="5.30" fill="#c3c5e6" stroke="#1f2a6b" stroke-width="2.0"/>
<circle cx="559.45" cy="1237.29" r="5.30" fill="#c3c5e6" stroke="#1f2a6b" stroke-width="2.0"/>
<circle cx="554.01" cy="1238.30" r="5.30" fill="#c3c5e6" stroke="#1f2a6b" stroke-width="2.0"/>
<line x1="541.10" y1="1231.80" x2="569.10" y2="1231.80" stroke="#1f2a6b" stroke-width="3.2" stroke-linecap="butt"/>
<line x1="541.10" y1="1266.30" x2="569.10" y2="1266.30" stroke="#000" stroke-width="3.8" stroke-linecap="butt"/>
<text transform="translate(188.00,1350.00) rotate(-45) scale(0.96,1)" font-size="26.5" text-anchor="end">Alanine</text>
<text transform="translate(241.60,1350.00) rotate(-45) scale(0.96,1)" font-size="26.5" text-anchor="end">Citric acid</text>
<text transform="translate(295.10,1350.00) rotate(-45) scale(0.96,1)" font-size="26.5" text-anchor="end">Galactose</text>
<text transform="translate(348.30,1350.00) rotate(-45) scale(0.96,1)" font-size="26.5" text-anchor="end">Glucose</text>
<text transform="translate(401.80,1350.00) rotate(-45) scale(0.96,1)" font-size="26.5" text-anchor="end">Succinic acid</text>
<text transform="translate(455.40,1350.00) rotate(-45) scale(0.96,1)" font-size="26.5" text-anchor="end">Thronine</text>
<text transform="translate(509.30,1350.00) rotate(-45) scale(0.96,1)" font-size="26.5" text-anchor="end">Tyrosine</text>
<text transform="translate(562.10,1350.00) rotate(-45) scale(0.96,1)" font-size="26.5" text-anchor="end">Palmitelaidic acid</text>
<line x1="648.70" y1="1099.00" x2="648.70" y2="1334.50" stroke="#000" stroke-width="3" stroke-linecap="butt"/>
<line x1="637.80" y1="1333.00" x2="1045.30" y2="1333.00" stroke="#000" stroke-width="3" stroke-linecap="butt"/>
<line x1="637.80" y1="1332.80" x2="648.70" y2="1332.80" stroke="#000" stroke-width="3" stroke-linecap="butt"/>
<line x1="637.80" y1="1274.73" x2="648.70" y2="1274.73" stroke="#000" stroke-width="3" stroke-linecap="butt"/>
<line x1="637.80" y1="1216.66" x2="648.70" y2="1216.66" stroke="#000" stroke-width="3" stroke-linecap="butt"/>
<line x1="637.80" y1="1158.59" x2="648.70" y2="1158.59" stroke="#000" stroke-width="3" stroke-linecap="butt"/>
<line x1="637.80" y1="1100.52" x2="648.70" y2="1100.52" stroke="#000" stroke-width="3" stroke-linecap="butt"/>
<text transform="translate(621.52,1342.74) rotate(0) scale(0.8400,1)" font-size="28.80">0</text>
<text transform="translate(608.09,1284.67) rotate(0) scale(0.8400,1)" font-size="28.80">20</text>
<text transform="translate(608.09,1226.60) rotate(0) scale(0.8400,1)" font-size="28.80">40</text>
<text transform="translate(608.09,1168.53) rotate(0) scale(0.8400,1)" font-size="28.80">60</text>
<text transform="translate(608.09,1110.46) rotate(0) scale(0.8400,1)" font-size="28.80">80</text>
<line x1="676.10" y1="1333.00" x2="676.10" y2="1322.50" stroke="#000" stroke-width="3" stroke-linecap="butt"/>
<line x1="732.60" y1="1333.00" x2="732.60" y2="1322.50" stroke="#000" stroke-width="3" stroke-linecap="butt"/>
<line x1="789.20" y1="1333.00" x2="789.20" y2="1322.50" stroke="#000" stroke-width="3" stroke-linecap="butt"/>
<line x1="846.50" y1="1333.00" x2="846.50" y2="1322.50" stroke="#000" stroke-width="3" stroke-linecap="butt"/>
<line x1="903.00" y1="1333.00" x2="903.00" y2="1322.50" stroke="#000" stroke-width="3" stroke-linecap="butt"/>
<line x1="959.60" y1="1333.00" x2="959.60" y2="1322.50" stroke="#000" stroke-width="3" stroke-linecap="butt"/>
<line x1="1016.10" y1="1333.00" x2="1016.10" y2="1322.50" stroke="#000" stroke-width="3" stroke-linecap="butt"/>
<circle cx="672.12" cy="1228.90" r="5.60" fill="none" stroke="#a2a2a2" stroke-width="1.5"/>
<circle cx="680.81" cy="1229.88" r="5.60" fill="none" stroke="#a2a2a2" stroke-width="1.5"/>
<circle cx="669.22" cy="1231.20" r="5.60" fill="none" stroke="#a2a2a2" stroke-width="1.5"/>
<circle cx="677.91" cy="1232.34" r="5.60" fill="none" stroke="#a2a2a2" stroke-width="1.5"/>
<circle cx="682.98" cy="1233.41" r="5.60" fill="none" stroke="#a2a2a2" stroke-width="1.5"/>
<circle cx="673.56" cy="1234.64" r="5.60" fill="none" stroke="#a2a2a2" stroke-width="1.5"/>
<circle cx="680.45" cy="1235.95" r="5.60" fill="none" stroke="#a2a2a2" stroke-width="1.5"/>
<circle cx="675.01" cy="1237.10" r="5.60" fill="none" stroke="#a2a2a2" stroke-width="1.5"/>
<circle cx="672.12" cy="1237.00" r="5.30" fill="#c3c5e6" stroke="#1f2a6b" stroke-width="2.0"/>
<circle cx="680.81" cy="1238.38" r="5.30" fill="#c3c5e6" stroke="#1f2a6b" stroke-width="2.0"/>
<circle cx="669.22" cy="1239.76" r="5.30" fill="#c3c5e6" stroke="#1f2a6b" stroke-width="2.0"/>
<circle cx="677.91" cy="1241.14" r="5.30" fill="#c3c5e6" stroke="#1f2a6b" stroke-width="2.0"/>
<circle cx="682.98" cy="1242.34" r="5.30" fill="#c3c5e6" stroke="#1f2a6b" stroke-width="2.0"/>
<circle cx="673.56" cy="1243.62" r="5.30" fill="#c3c5e6" stroke="#1f2a6b" stroke-width="2.0"/>
<circle cx="680.45" cy="1245.10" r="5.30" fill="#c3c5e6" stroke="#1f2a6b" stroke-width="2.0"/>
<circle cx="675.01" cy="1246.20" r="5.30" fill="#c3c5e6" stroke="#1f2a6b" stroke-width="2.0"/>
<line x1="662.10" y1="1241.60" x2="690.10" y2="1241.60" stroke="#1f2a6b" stroke-width="3.2" stroke-linecap="butt"/>
<line x1="662.10" y1="1230.70" x2="690.10" y2="1230.70" stroke="#000" stroke-width="3.8" stroke-linecap="butt"/>
<circle cx="728.62" cy="1299.70" r="5.60" fill="none" stroke="#a2a2a2" stroke-width="1.5"/>
<circle cx="737.31" cy="1299.86" r="5.60" fill="none" stroke="#a2a2a2" stroke-width="1.5"/>
<circle cx="725.72" cy="1300.06" r="5.60" fill="none" stroke="#a2a2a2" stroke-width="1.5"/>
<circle cx="734.41" cy="1300.25" r="5.60" fill="none" stroke="#a2a2a2" stroke-width="1.5"/>
<circle cx="739.48" cy="1300.41" r="5.60" fill="none" stroke="#a2a2a2" stroke-width="1.5"/>
<circle cx="730.06" cy="1300.61" r="5.60" fill="none" stroke="#a2a2a2" stroke-width="1.5"/>
<circle cx="736.95" cy="1300.82" r="5.60" fill="none" stroke="#a2a2a2" stroke-width="1.5"/>
<circle cx="731.51" cy="1301.00" r="5.60" fill="none" stroke="#a2a2a2" stroke-width="1.5"/>
<circle cx="728.62" cy="1304.30" r="5.30" fill="#c3c5e6" stroke="#1f2a6b" stroke-width="2.0"/>
<circle cx="737.31" cy="1304.36" r="5.30" fill="#c3c5e6" stroke="#1f2a6b" stroke-width="2.0"/>
<circle cx="725.72" cy="1304.42" r="5.30" fill="#c3c5e6" stroke="#1f2a6b" stroke-width="2.0"/>
<circle cx="734.41" cy="1304.48" r="5.30" fill="#c3c5e6" stroke="#1f2a6b" stroke-width="2.0"/>
<circle cx="739.48" cy="1304.53" r="5.30" fill="#c3c5e6" stroke="#1f2a6b" stroke-width="2.0"/>
<circle cx="730.06" cy="1304.59" r="5.30" fill="#c3c5e6" stroke="#1f2a6b" stroke-width="2.0"/>
<circle cx="736.95" cy="1304.65" r="5.30" fill="#c3c5e6" stroke="#1f2a6b" stroke-width="2.0"/>
<circle cx="731.51" cy="1304.70" r="5.30" fill="#c3c5e6" stroke="#1f2a6b" stroke-width="2.0"/>
<line x1="718.60" y1="1303.50" x2="746.60" y2="1303.50" stroke="#1f2a6b" stroke-width="3.2" stroke-linecap="butt"/>
<line x1="718.60" y1="1301.10" x2="746.60" y2="1301.10" stroke="#000" stroke-width="3.8" stroke-linecap="butt"/>
<circle cx="785.22" cy="1306.30" r="5.60" fill="none" stroke="#a2a2a2" stroke-width="1.5"/>
<circle cx="793.91" cy="1306.97" r="5.60" fill="none" stroke="#a2a2a2" stroke-width="1.5"/>
<circle cx="782.32" cy="1307.87" r="5.60" fill="none" stroke="#a2a2a2" stroke-width="1.5"/>
<circle cx="791.01" cy="1308.65" r="5.60" fill="none" stroke="#a2a2a2" stroke-width="1.5"/>
<circle cx="796.08" cy="1309.38" r="5.60" fill="none" stroke="#a2a2a2" stroke-width="1.5"/>
<circle cx="786.66" cy="1310.22" r="5.60" fill="none" stroke="#a2a2a2" stroke-width="1.5"/>
<circle cx="793.55" cy="1311.12" r="5.60" fill="none" stroke="#a2a2a2" stroke-width="1.5"/>
<circle cx="788.11" cy="1311.90" r="5.60" fill="none" stroke="#a2a2a2" stroke-width="1.5"/>
<circle cx="785.22" cy="1313.60" r="5.30" fill="#c3c5e6" stroke="#1f2a6b" stroke-width="2.0"/>
<circle cx="793.91" cy="1313.90" r="5.30" fill="#c3c5e6" stroke="#1f2a6b" stroke-width="2.0"/>
<circle cx="782.32" cy="1314.20" r="5.30" fill="#c3c5e6" stroke="#1f2a6b" stroke-width="2.0"/>
<circle cx="791.01" cy="1314.50" r="5.30" fill="#c3c5e6" stroke="#1f2a6b" stroke-width="2.0"/>
<circle cx="796.08" cy="1314.76" r="5.30" fill="#c3c5e6" stroke="#1f2a6b" stroke-width="2.0"/>
<circle cx="786.66" cy="1315.04" r="5.30" fill="#c3c5e6" stroke="#1f2a6b" stroke-width="2.0"/>
<circle cx="793.55" cy="1315.36" r="5.30" fill="#c3c5e6" stroke="#1f2a6b" stroke-width="2.0"/>
<circle cx="788.11" cy="1315.60" r="5.30" fill="#c3c5e6" stroke="#1f2a6b" stroke-width="2.0"/>
<line x1="775.20" y1="1312.00" x2="803.20" y2="1312.00" stroke="#1f2a6b" stroke-width="3.2" stroke-linecap="butt"/>
<line x1="775.20" y1="1308.00" x2="803.20" y2="1308.00" stroke="#000" stroke-width="3.8" stroke-linecap="butt"/>
<circle cx="842.52" cy="1151.85" r="5.30" fill="#c3c5e6" stroke="#1f2a6b" stroke-width="2.0"/>
<circle cx="851.21" cy="1151.85" r="5.30" fill="#c3c5e6" stroke="#1f2a6b" stroke-width="2.0"/>
<circle cx="839.62" cy="1151.85" r="5.30" fill="#c3c5e6" stroke="#1f2a6b" stroke-width="2.0"/>
<circle cx="848.31" cy="1151.85" r="5.30" fill="#c3c5e6" stroke="#1f2a6b" stroke-width="2.0"/>
<circle cx="853.38" cy="1151.85" r="5.30" fill="#c3c5e6" stroke="#1f2a6b" stroke-width="2.0"/>
<circle cx="843.96" cy="1151.85" r="5.30" fill="#c3c5e6" stroke="#1f2a6b" stroke-width="2.0"/>
<circle cx="850.85" cy="1151.85" r="5.30" fill="#c3c5e6" stroke="#1f2a6b" stroke-width="2.0"/>
<circle cx="845.41" cy="1151.85" r="5.30" fill="#c3c5e6" stroke="#1f2a6b" stroke-width="2.0"/>
<line x1="832.50" y1="1154.00" x2="860.50" y2="1154.00" stroke="#1f2a6b" stroke-width="3.2" stroke-linecap="butt"/>
<circle cx="842.52" cy="1160.30" r="5.60" fill="none" stroke="#a2a2a2" stroke-width="1.5"/>
<circle cx="851.21" cy="1160.98" r="5.60" fill="none" stroke="#a2a2a2" stroke-width="1.5"/>
<circle cx="839.62" cy="1161.90" r="5.60" fill="none" stroke="#a2a2a2" stroke-width="1.5"/>
<circle cx="848.31" cy="1162.69" r="5.60" fill="none" stroke="#a2a2a2" stroke-width="1.5"/>
<circle cx="853.38" cy="1163.43" r="5.60" fill="none" stroke="#a2a2a2" stroke-width="1.5"/>
<circle cx="843.96" cy="1164.29" r="5.60" fill="none" stroke="#a2a2a2" stroke-width="1.5"/>
<circle cx="850.85" cy="1165.20" r="5.60" fill="none" stroke="#a2a2a2" stroke-width="1.5"/>
<circle cx="845.41" cy="1166.00" r="5.60" fill="none" stroke="#a2a2a2" stroke-width="1.5"/>
<line x1="832.50" y1="1158.80" x2="860.50" y2="1158.80" stroke="#000" stroke-width="3.8" stroke-linecap="butt"/>
<circle cx="899.02" cy="1216.90" r="5.60" fill="none" stroke="#a2a2a2" stroke-width="1.5"/>
<circle cx="907.71" cy="1219.54" r="5.60" fill="none" stroke="#a2a2a2" stroke-width="1.5"/>
<circle cx="896.12" cy="1223.06" r="5.60" fill="none" stroke="#a2a2a2" stroke-width="1.5"/>
<circle cx="904.81" cy="1226.14" r="5.60" fill="none" stroke="#a2a2a2" stroke-width="1.5"/>
<circle cx="909.88" cy="1229.00" r="5.60" fill="none" stroke="#a2a2a2" stroke-width="1.5"/>
<circle cx="900.46" cy="1232.30" r="5.60" fill="none" stroke="#a2a2a2" stroke-width="1.5"/>
<circle cx="907.35" cy="1235.82" r="5.60" fill="none" stroke="#a2a2a2" stroke-width="1.5"/>
<circle cx="901.91" cy="1238.90" r="5.60" fill="none" stroke="#a2a2a2" stroke-width="1.5"/>
<circle cx="899.02" cy="1193.90" r="5.30" fill="#c3c5e6" stroke="#1f2a6b" stroke-width="2.0"/>
<circle cx="907.71" cy="1196.00" r="5.30" fill="#c3c5e6" stroke="#1f2a6b" stroke-width="2.0"/>
<circle cx="896.12" cy="1198.10" r="5.30" fill="#c3c5e6" stroke="#1f2a6b" stroke-width="2.0"/>
<circle cx="904.81" cy="1200.20" r="5.30" fill="#c3c5e6" stroke="#1f2a6b" stroke-width="2.0"/>
<circle cx="909.88" cy="1202.02" r="5.30" fill="#c3c5e6" stroke="#1f2a6b" stroke-width="2.0"/>
<circle cx="900.46" cy="1203.98" r="5.30" fill="#c3c5e6" stroke="#1f2a6b" stroke-width="2.0"/>
<circle cx="907.35" cy="1206.22" r="5.30" fill="#c3c5e6" stroke="#1f2a6b" stroke-width="2.0"/>
<circle cx="901.91" cy="1207.90" r="5.30" fill="#c3c5e6" stroke="#1f2a6b" stroke-width="2.0"/>
<line x1="903.00" y1="1197.80" x2="903.00" y2="1215.00" stroke="#1f2a6b" stroke-width="2.2" stroke-linecap="butt"/>
<line x1="896.50" y1="1197.80" x2="909.50" y2="1197.80" stroke="#1f2a6b" stroke-width="2.2" stroke-linecap="butt"/>
<line x1="896.50" y1="1215.00" x2="909.50" y2="1215.00" stroke="#1f2a6b" stroke-width="2.2" stroke-linecap="butt"/>
<line x1="889.00" y1="1207.70" x2="917.00" y2="1207.70" stroke="#1f2a6b" stroke-width="3.2" stroke-linecap="butt"/>
<line x1="889.00" y1="1223.40" x2="917.00" y2="1223.40" stroke="#000" stroke-width="3.8" stroke-linecap="butt"/>
<circle cx="955.62" cy="1280.70" r="5.30" fill="#c3c5e6" stroke="#1f2a6b" stroke-width="2.0"/>
<circle cx="964.31" cy="1280.73" r="5.30" fill="#c3c5e6" stroke="#1f2a6b" stroke-width="2.0"/>
<circle cx="952.72" cy="1280.76" r="5.30" fill="#c3c5e6" stroke="#1f2a6b" stroke-width="2.0"/>
<circle cx="961.41" cy="1280.79" r="5.30" fill="#c3c5e6" stroke="#1f2a6b" stroke-width="2.0"/>
<circle cx="966.48" cy="1280.82" r="5.30" fill="#c3c5e6" stroke="#1f2a6b" stroke-width="2.0"/>
<circle cx="957.06" cy="1280.84" r="5.30" fill="#c3c5e6" stroke="#1f2a6b" stroke-width="2.0"/>
<circle cx="963.95" cy="1280.88" r="5.30" fill="#c3c5e6" stroke="#1f2a6b" stroke-width="2.0"/>
<circle cx="958.51" cy="1280.90" r="5.30" fill="#c3c5e6" stroke="#1f2a6b" stroke-width="2.0"/>
<line x1="945.60" y1="1284.00" x2="973.60" y2="1284.00" stroke="#1f2a6b" stroke-width="3.2" stroke-linecap="butt"/>
<circle cx="955.62" cy="1284.40" r="5.60" fill="none" stroke="#a2a2a2" stroke-width="1.5"/>
<circle cx="964.31" cy="1285.52" r="5.60" fill="none" stroke="#a2a2a2" stroke-width="1.5"/>
<circle cx="952.72" cy="1287.00" r="5.60" fill="none" stroke="#a2a2a2" stroke-width="1.5"/>
<circle cx="961.41" cy="1288.31" r="5.60" fill="none" stroke="#a2a2a2" stroke-width="1.5"/>
<circle cx="966.48" cy="1289.51" r="5.60" fill="none" stroke="#a2a2a2" stroke-width="1.5"/>
<circle cx="957.06" cy="1290.91" r="5.60" fill="none" stroke="#a2a2a2" stroke-width="1.5"/>
<circle cx="963.95" cy="1292.40" r="5.60" fill="none" stroke="#a2a2a2" stroke-width="1.5"/>
<circle cx="958.51" cy="1293.70" r="5.60" fill="none" stroke="#a2a2a2" stroke-width="1.5"/>
<line x1="945.60" y1="1290.90" x2="973.60" y2="1290.90" stroke="#000" stroke-width="3.8" stroke-linecap="butt"/>
<circle cx="1012.12" cy="1277.80" r="5.30" fill="#c3c5e6" stroke="#1f2a6b" stroke-width="2.0"/>
<circle cx="1020.81" cy="1277.99" r="5.30" fill="#c3c5e6" stroke="#1f2a6b" stroke-width="2.0"/>
<circle cx="1009.22" cy="1278.19" r="5.30" fill="#c3c5e6" stroke="#1f2a6b" stroke-width="2.0"/>
<circle cx="1017.91" cy="1278.38" r="5.30" fill="#c3c5e6" stroke="#1f2a6b" stroke-width="2.0"/>
<circle cx="1022.98" cy="1278.55" r="5.30" fill="#c3c5e6" stroke="#1f2a6b" stroke-width="2.0"/>
<circle cx="1013.56" cy="1278.74" r="5.30" fill="#c3c5e6" stroke="#1f2a6b" stroke-width="2.0"/>
<circle cx="1020.45" cy="1278.94" r="5.30" fill="#c3c5e6" stroke="#1f2a6b" stroke-width="2.0"/>
<circle cx="1015.01" cy="1279.10" r="5.30" fill="#c3c5e6" stroke="#1f2a6b" stroke-width="2.0"/>
<line x1="1002.10" y1="1280.00" x2="1030.10" y2="1280.00" stroke="#1f2a6b" stroke-width="3.2" stroke-linecap="butt"/>
<circle cx="1012.12" cy="1280.70" r="5.60" fill="none" stroke="#a2a2a2" stroke-width="1.5"/>
<circle cx="1020.81" cy="1282.26" r="5.60" fill="none" stroke="#a2a2a2" stroke-width="1.5"/>
<circle cx="1009.22" cy="1284.34" r="5.60" fill="none" stroke="#a2a2a2" stroke-width="1.5"/>
<circle cx="1017.91" cy="1286.16" r="5.60" fill="none" stroke="#a2a2a2" stroke-width="1.5"/>
<circle cx="1022.98" cy="1287.85" r="5.60" fill="none" stroke="#a2a2a2" stroke-width="1.5"/>
<circle cx="1013.56" cy="1289.80" r="5.60" fill="none" stroke="#a2a2a2" stroke-width="1.5"/>
<circle cx="1020.45" cy="1291.88" r="5.60" fill="none" stroke="#a2a2a2" stroke-width="1.5"/>
<circle cx="1015.01" cy="1293.70" r="5.60" fill="none" stroke="#a2a2a2" stroke-width="1.5"/>
<line x1="1002.10" y1="1287.20" x2="1030.10" y2="1287.20" stroke="#000" stroke-width="3.8" stroke-linecap="butt"/>
<text transform="translate(683.10,1349.00) rotate(-45) scale(0.93,1)" font-size="25.5" text-anchor="end">Glutamic acid</text>
<text transform="translate(739.60,1349.00) rotate(-45) scale(0.93,1)" font-size="25.5" text-anchor="end">Glycine</text>
<text transform="translate(796.20,1349.00) rotate(-45) scale(0.93,1)" font-size="25.5" text-anchor="end">Glycerolmonostearate</text>
<text transform="translate(853.50,1349.00) rotate(-45) scale(0.93,1)" font-size="25.5" text-anchor="end">Proline</text>
<text transform="translate(910.00,1349.00) rotate(-45) scale(0.93,1)" font-size="25.5" text-anchor="end">Ornithine</text>
<text transform="translate(966.60,1349.00) rotate(-45) scale(0.93,1)" font-size="25.5" text-anchor="end">Putrescine</text>
<text transform="translate(1023.10,1349.00) rotate(-45) scale(0.93,1)" font-size="25.5" text-anchor="end">Palmitic acid</text>
<circle cx="953.70" cy="1081.40" r="4.70" fill="none" stroke="#a2a2a2" stroke-width="1.8"/>
<text transform="translate(969.63,1092.00) scale(0.8623,1)" font-size="28.57">PA-S8</text>
<circle cx="953.70" cy="1112.60" r="4.90" fill="#c3c5e6" stroke="#1f2a6b" stroke-width="2.2"/>
<text transform="translate(969.67,1124.00) scale(0.8451,1)" font-size="28.57">PA-R8</text>
<text transform="translate(1039.16,1132.20) scale(0.7825,1)" font-size="18.29">SCF</text>
<text transform="translate(13.32,1504.90) scale(0.9472,1)" font-size="28.84" font-weight="bold">D</text>
<text transform="translate(63.50,1652.70) rotate(-90) scale(0.8351,1)" font-size="34.20" text-anchor="middle">Normalized area</text>
<text transform="translate(113.50,1652.70) rotate(-90) scale(0.7798,1)" font-size="36.00" text-anchor="middle">(×10<tspan font-size="22.32" dy="-15.12">6</tspan><tspan dy="15.12">)</tspan></text>
<line x1="157.20" y1="1532.50" x2="157.20" y2="1779.00" stroke="#000" stroke-width="3" stroke-linecap="butt"/>
<line x1="145.40" y1="1777.60" x2="572.70" y2="1777.60" stroke="#000" stroke-width="3" stroke-linecap="butt"/>
<line x1="147.60" y1="1777.70" x2="157.20" y2="1777.70" stroke="#000" stroke-width="3" stroke-linecap="butt"/>
<line x1="147.60" y1="1716.65" x2="157.20" y2="1716.65" stroke="#000" stroke-width="3" stroke-linecap="butt"/>
<line x1="147.60" y1="1655.60" x2="157.20" y2="1655.60" stroke="#000" stroke-width="3" stroke-linecap="butt"/>
<line x1="147.60" y1="1594.55" x2="157.20" y2="1594.55" stroke="#000" stroke-width="3" stroke-linecap="butt"/>
<line x1="147.60" y1="1533.50" x2="157.20" y2="1533.50" stroke="#000" stroke-width="3" stroke-linecap="butt"/>
<text transform="translate(129.82,1787.64) rotate(0) scale(0.8400,1)" font-size="28.80">0</text>
<text transform="translate(129.94,1726.59) rotate(0) scale(0.8400,1)" font-size="28.80">3</text>
<text transform="translate(129.94,1665.54) rotate(0) scale(0.8400,1)" font-size="28.80">6</text>
<text transform="translate(130.06,1604.49) rotate(0) scale(0.8400,1)" font-size="28.80">9</text>
<text transform="translate(116.76,1543.58) rotate(0) scale(0.8400,1)" font-size="28.80">12</text>
<line x1="185.70" y1="1777.60" x2="185.70" y2="1767.00" stroke="#000" stroke-width="3" stroke-linecap="butt"/>
<line x1="245.50" y1="1777.60" x2="245.50" y2="1767.00" stroke="#000" stroke-width="3" stroke-linecap="butt"/>
<line x1="304.90" y1="1777.60" x2="304.90" y2="1767.00" stroke="#000" stroke-width="3" stroke-linecap="butt"/>
<line x1="363.60" y1="1777.60" x2="363.60" y2="1767.00" stroke="#000" stroke-width="3" stroke-linecap="butt"/>
<line x1="423.00" y1="1777.60" x2="423.00" y2="1767.00" stroke="#000" stroke-width="3" stroke-linecap="butt"/>
<line x1="482.00" y1="1777.60" x2="482.00" y2="1767.00" stroke="#000" stroke-width="3" stroke-linecap="butt"/>
<line x1="541.40" y1="1777.60" x2="541.40" y2="1767.00" stroke="#000" stroke-width="3" stroke-linecap="butt"/>
<circle cx="181.84" cy="1662.50" r="5.40" fill="none" stroke="#a2a2a2" stroke-width="1.5"/>
<circle cx="190.26" cy="1663.94" r="5.40" fill="none" stroke="#a2a2a2" stroke-width="1.5"/>
<circle cx="179.04" cy="1665.86" r="5.40" fill="none" stroke="#a2a2a2" stroke-width="1.5"/>
<circle cx="187.45" cy="1667.54" r="5.40" fill="none" stroke="#a2a2a2" stroke-width="1.5"/>
<circle cx="192.36" cy="1669.10" r="5.40" fill="none" stroke="#a2a2a2" stroke-width="1.5"/>
<circle cx="183.24" cy="1670.90" r="5.40" fill="none" stroke="#a2a2a2" stroke-width="1.5"/>
<circle cx="189.91" cy="1672.82" r="5.40" fill="none" stroke="#a2a2a2" stroke-width="1.5"/>
<circle cx="184.65" cy="1674.50" r="5.40" fill="none" stroke="#a2a2a2" stroke-width="1.5"/>
<circle cx="181.84" cy="1693.70" r="5.10" fill="#4557b3" stroke="#1f2a6b" stroke-width="2.0"/>
<circle cx="190.26" cy="1695.68" r="5.10" fill="#4557b3" stroke="#1f2a6b" stroke-width="2.0"/>
<circle cx="179.04" cy="1697.66" r="5.10" fill="#4557b3" stroke="#1f2a6b" stroke-width="2.0"/>
<circle cx="187.45" cy="1699.64" r="5.10" fill="#4557b3" stroke="#1f2a6b" stroke-width="2.0"/>
<circle cx="192.36" cy="1701.36" r="5.10" fill="#4557b3" stroke="#1f2a6b" stroke-width="2.0"/>
<circle cx="183.24" cy="1703.20" r="5.10" fill="#4557b3" stroke="#1f2a6b" stroke-width="2.0"/>
<circle cx="189.91" cy="1705.32" r="5.10" fill="#4557b3" stroke="#1f2a6b" stroke-width="2.0"/>
<circle cx="184.65" cy="1706.90" r="5.10" fill="#4557b3" stroke="#1f2a6b" stroke-width="2.0"/>
<line x1="171.70" y1="1700.00" x2="199.70" y2="1700.00" stroke="#1f2a6b" stroke-width="3.2" stroke-linecap="butt"/>
<line x1="171.70" y1="1668.40" x2="199.70" y2="1668.40" stroke="#000" stroke-width="3.8" stroke-linecap="butt"/>
<circle cx="241.64" cy="1676.10" r="5.40" fill="none" stroke="#a2a2a2" stroke-width="1.5"/>
<circle cx="250.06" cy="1676.75" r="5.40" fill="none" stroke="#a2a2a2" stroke-width="1.5"/>
<circle cx="238.84" cy="1677.61" r="5.40" fill="none" stroke="#a2a2a2" stroke-width="1.5"/>
<circle cx="247.25" cy="1678.37" r="5.40" fill="none" stroke="#a2a2a2" stroke-width="1.5"/>
<circle cx="252.16" cy="1679.07" r="5.40" fill="none" stroke="#a2a2a2" stroke-width="1.5"/>
<circle cx="243.04" cy="1679.88" r="5.40" fill="none" stroke="#a2a2a2" stroke-width="1.5"/>
<circle cx="249.71" cy="1680.74" r="5.40" fill="none" stroke="#a2a2a2" stroke-width="1.5"/>
<circle cx="244.45" cy="1681.50" r="5.40" fill="none" stroke="#a2a2a2" stroke-width="1.5"/>
<circle cx="237.40" cy="1712.70" r="5.10" fill="#4557b3" stroke="#1f2a6b" stroke-width="2.0"/>
<circle cx="253.80" cy="1713.50" r="5.10" fill="#4557b3" stroke="#1f2a6b" stroke-width="2.0"/>
<circle cx="241.00" cy="1720.00" r="5.10" fill="#4557b3" stroke="#1f2a6b" stroke-width="2.0"/>
<circle cx="250.50" cy="1719.00" r="5.10" fill="#4557b3" stroke="#1f2a6b" stroke-width="2.0"/>
<circle cx="246.80" cy="1726.00" r="5.10" fill="#4557b3" stroke="#1f2a6b" stroke-width="2.0"/>
<circle cx="237.40" cy="1741.60" r="5.10" fill="#4557b3" stroke="#1f2a6b" stroke-width="2.0"/>
<circle cx="253.00" cy="1741.60" r="5.10" fill="#4557b3" stroke="#1f2a6b" stroke-width="2.0"/>
<line x1="245.50" y1="1716.00" x2="245.50" y2="1736.20" stroke="#1f2a6b" stroke-width="2.2" stroke-linecap="butt"/>
<line x1="239.00" y1="1716.00" x2="252.00" y2="1716.00" stroke="#1f2a6b" stroke-width="2.2" stroke-linecap="butt"/>
<line x1="239.00" y1="1736.20" x2="252.00" y2="1736.20" stroke="#1f2a6b" stroke-width="2.2" stroke-linecap="butt"/>
<line x1="231.50" y1="1724.40" x2="259.50" y2="1724.40" stroke="#1f2a6b" stroke-width="3.2" stroke-linecap="butt"/>
<line x1="231.50" y1="1680.30" x2="259.50" y2="1680.30" stroke="#000" stroke-width="3.8" stroke-linecap="butt"/>
<circle cx="301.04" cy="1584.30" r="5.40" fill="none" stroke="#a2a2a2" stroke-width="1.5"/>
<circle cx="309.46" cy="1587.29" r="5.40" fill="none" stroke="#a2a2a2" stroke-width="1.5"/>
<circle cx="298.24" cy="1591.27" r="5.40" fill="none" stroke="#a2a2a2" stroke-width="1.5"/>
<circle cx="306.65" cy="1594.76" r="5.40" fill="none" stroke="#a2a2a2" stroke-width="1.5"/>
<circle cx="311.56" cy="1598.00" r="5.40" fill="none" stroke="#a2a2a2" stroke-width="1.5"/>
<circle cx="302.44" cy="1601.73" r="5.40" fill="none" stroke="#a2a2a2" stroke-width="1.5"/>
<circle cx="309.11" cy="1605.71" r="5.40" fill="none" stroke="#a2a2a2" stroke-width="1.5"/>
<circle cx="303.85" cy="1609.20" r="5.40" fill="none" stroke="#a2a2a2" stroke-width="1.5"/>
<circle cx="301.04" cy="1628.10" r="5.10" fill="#4557b3" stroke="#1f2a6b" stroke-width="2.0"/>
<circle cx="309.46" cy="1633.06" r="5.10" fill="#4557b3" stroke="#1f2a6b" stroke-width="2.0"/>
<circle cx="298.24" cy="1638.03" r="5.10" fill="#4557b3" stroke="#1f2a6b" stroke-width="2.0"/>
<circle cx="306.65" cy="1642.99" r="5.10" fill="#4557b3" stroke="#1f2a6b" stroke-width="2.0"/>
<circle cx="311.56" cy="1647.30" r="5.10" fill="#4557b3" stroke="#1f2a6b" stroke-width="2.0"/>
<circle cx="302.44" cy="1651.93" r="5.10" fill="#4557b3" stroke="#1f2a6b" stroke-width="2.0"/>
<circle cx="309.11" cy="1657.23" r="5.10" fill="#4557b3" stroke="#1f2a6b" stroke-width="2.0"/>
<circle cx="303.85" cy="1661.20" r="5.10" fill="#4557b3" stroke="#1f2a6b" stroke-width="2.0"/>
<line x1="290.90" y1="1642.70" x2="318.90" y2="1642.70" stroke="#1f2a6b" stroke-width="3.2" stroke-linecap="butt"/>
<line x1="290.90" y1="1600.90" x2="318.90" y2="1600.90" stroke="#000" stroke-width="3.8" stroke-linecap="butt"/>
<circle cx="359.74" cy="1608.50" r="5.40" fill="none" stroke="#a2a2a2" stroke-width="1.5"/>
<circle cx="368.16" cy="1610.47" r="5.40" fill="none" stroke="#a2a2a2" stroke-width="1.5"/>
<circle cx="356.94" cy="1613.09" r="5.40" fill="none" stroke="#a2a2a2" stroke-width="1.5"/>
<circle cx="365.35" cy="1615.39" r="5.40" fill="none" stroke="#a2a2a2" stroke-width="1.5"/>
<circle cx="370.26" cy="1617.52" r="5.40" fill="none" stroke="#a2a2a2" stroke-width="1.5"/>
<circle cx="361.14" cy="1619.98" r="5.40" fill="none" stroke="#a2a2a2" stroke-width="1.5"/>
<circle cx="367.81" cy="1622.60" r="5.40" fill="none" stroke="#a2a2a2" stroke-width="1.5"/>
<circle cx="362.55" cy="1624.90" r="5.40" fill="none" stroke="#a2a2a2" stroke-width="1.5"/>
<circle cx="359.74" cy="1645.70" r="5.10" fill="#4557b3" stroke="#1f2a6b" stroke-width="2.0"/>
<circle cx="368.16" cy="1648.61" r="5.10" fill="#4557b3" stroke="#1f2a6b" stroke-width="2.0"/>
<circle cx="356.94" cy="1651.52" r="5.10" fill="#4557b3" stroke="#1f2a6b" stroke-width="2.0"/>
<circle cx="365.35" cy="1654.43" r="5.10" fill="#4557b3" stroke="#1f2a6b" stroke-width="2.0"/>
<circle cx="370.26" cy="1656.95" r="5.10" fill="#4557b3" stroke="#1f2a6b" stroke-width="2.0"/>
<circle cx="361.14" cy="1659.67" r="5.10" fill="#4557b3" stroke="#1f2a6b" stroke-width="2.0"/>
<circle cx="367.81" cy="1662.77" r="5.10" fill="#4557b3" stroke="#1f2a6b" stroke-width="2.0"/>
<circle cx="362.55" cy="1665.10" r="5.10" fill="#4557b3" stroke="#1f2a6b" stroke-width="2.0"/>
<line x1="349.60" y1="1655.60" x2="377.60" y2="1655.60" stroke="#1f2a6b" stroke-width="3.2" stroke-linecap="butt"/>
<line x1="349.60" y1="1616.10" x2="377.60" y2="1616.10" stroke="#000" stroke-width="3.8" stroke-linecap="butt"/>
<circle cx="419.14" cy="1639.00" r="5.40" fill="none" stroke="#a2a2a2" stroke-width="1.5"/>
<circle cx="427.56" cy="1641.76" r="5.40" fill="none" stroke="#a2a2a2" stroke-width="1.5"/>
<circle cx="416.34" cy="1645.44" r="5.40" fill="none" stroke="#a2a2a2" stroke-width="1.5"/>
<circle cx="424.75" cy="1648.66" r="5.40" fill="none" stroke="#a2a2a2" stroke-width="1.5"/>
<circle cx="429.66" cy="1651.65" r="5.40" fill="none" stroke="#a2a2a2" stroke-width="1.5"/>
<circle cx="420.54" cy="1655.10" r="5.40" fill="none" stroke="#a2a2a2" stroke-width="1.5"/>
<circle cx="427.21" cy="1658.78" r="5.40" fill="none" stroke="#a2a2a2" stroke-width="1.5"/>
<circle cx="421.95" cy="1662.00" r="5.40" fill="none" stroke="#a2a2a2" stroke-width="1.5"/>
<circle cx="419.14" cy="1682.00" r="5.10" fill="#4557b3" stroke="#1f2a6b" stroke-width="2.0"/>
<circle cx="427.56" cy="1683.98" r="5.10" fill="#4557b3" stroke="#1f2a6b" stroke-width="2.0"/>
<circle cx="416.34" cy="1685.96" r="5.10" fill="#4557b3" stroke="#1f2a6b" stroke-width="2.0"/>
<circle cx="424.75" cy="1687.94" r="5.10" fill="#4557b3" stroke="#1f2a6b" stroke-width="2.0"/>
<circle cx="429.66" cy="1689.66" r="5.10" fill="#4557b3" stroke="#1f2a6b" stroke-width="2.0"/>
<circle cx="420.54" cy="1691.50" r="5.10" fill="#4557b3" stroke="#1f2a6b" stroke-width="2.0"/>
<circle cx="427.21" cy="1693.62" r="5.10" fill="#4557b3" stroke="#1f2a6b" stroke-width="2.0"/>
<circle cx="421.95" cy="1695.20" r="5.10" fill="#4557b3" stroke="#1f2a6b" stroke-width="2.0"/>
<line x1="409.00" y1="1685.70" x2="437.00" y2="1685.70" stroke="#1f2a6b" stroke-width="3.2" stroke-linecap="butt"/>
<line x1="409.00" y1="1649.70" x2="437.00" y2="1649.70" stroke="#000" stroke-width="3.8" stroke-linecap="butt"/>
<text transform="translate(437.48,1654.24) rotate(0) scale(1.0000,1)" font-size="16.00">*</text>
<circle cx="478.14" cy="1549.10" r="5.40" fill="none" stroke="#a2a2a2" stroke-width="1.5"/>
<circle cx="486.56" cy="1551.62" r="5.40" fill="none" stroke="#a2a2a2" stroke-width="1.5"/>
<circle cx="475.34" cy="1554.98" r="5.40" fill="none" stroke="#a2a2a2" stroke-width="1.5"/>
<circle cx="483.75" cy="1557.92" r="5.40" fill="none" stroke="#a2a2a2" stroke-width="1.5"/>
<circle cx="488.66" cy="1560.65" r="5.40" fill="none" stroke="#a2a2a2" stroke-width="1.5"/>
<circle cx="479.54" cy="1563.80" r="5.40" fill="none" stroke="#a2a2a2" stroke-width="1.5"/>
<circle cx="486.21" cy="1567.16" r="5.40" fill="none" stroke="#a2a2a2" stroke-width="1.5"/>
<circle cx="480.95" cy="1570.10" r="5.40" fill="none" stroke="#a2a2a2" stroke-width="1.5"/>
<circle cx="478.14" cy="1592.90" r="5.10" fill="#4557b3" stroke="#1f2a6b" stroke-width="2.0"/>
<circle cx="486.56" cy="1595.18" r="5.10" fill="#4557b3" stroke="#1f2a6b" stroke-width="2.0"/>
<circle cx="475.34" cy="1597.46" r="5.10" fill="#4557b3" stroke="#1f2a6b" stroke-width="2.0"/>
<circle cx="483.75" cy="1599.74" r="5.10" fill="#4557b3" stroke="#1f2a6b" stroke-width="2.0"/>
<circle cx="488.66" cy="1601.72" r="5.10" fill="#4557b3" stroke="#1f2a6b" stroke-width="2.0"/>
<circle cx="479.54" cy="1603.84" r="5.10" fill="#4557b3" stroke="#1f2a6b" stroke-width="2.0"/>
<circle cx="486.21" cy="1606.28" r="5.10" fill="#4557b3" stroke="#1f2a6b" stroke-width="2.0"/>
<circle cx="480.95" cy="1608.10" r="5.10" fill="#4557b3" stroke="#1f2a6b" stroke-width="2.0"/>
<line x1="468.00" y1="1599.70" x2="496.00" y2="1599.70" stroke="#1f2a6b" stroke-width="3.2" stroke-linecap="butt"/>
<line x1="468.00" y1="1562.50" x2="496.00" y2="1562.50" stroke="#000" stroke-width="3.8" stroke-linecap="butt"/>
<circle cx="537.54" cy="1678.10" r="5.40" fill="none" stroke="#a2a2a2" stroke-width="1.5"/>
<circle cx="545.96" cy="1679.22" r="5.40" fill="none" stroke="#a2a2a2" stroke-width="1.5"/>
<circle cx="534.74" cy="1680.70" r="5.40" fill="none" stroke="#a2a2a2" stroke-width="1.5"/>
<circle cx="543.15" cy="1682.01" r="5.40" fill="none" stroke="#a2a2a2" stroke-width="1.5"/>
<circle cx="548.06" cy="1683.21" r="5.40" fill="none" stroke="#a2a2a2" stroke-width="1.5"/>
<circle cx="538.94" cy="1684.61" r="5.40" fill="none" stroke="#a2a2a2" stroke-width="1.5"/>
<circle cx="545.61" cy="1686.10" r="5.40" fill="none" stroke="#a2a2a2" stroke-width="1.5"/>
<circle cx="540.35" cy="1687.40" r="5.40" fill="none" stroke="#a2a2a2" stroke-width="1.5"/>
<circle cx="537.54" cy="1639.80" r="5.10" fill="#4557b3" stroke="#1f2a6b" stroke-width="2.0"/>
<circle cx="545.96" cy="1642.24" r="5.10" fill="#4557b3" stroke="#1f2a6b" stroke-width="2.0"/>
<circle cx="534.74" cy="1644.69" r="5.10" fill="#4557b3" stroke="#1f2a6b" stroke-width="2.0"/>
<circle cx="543.15" cy="1647.13" r="5.10" fill="#4557b3" stroke="#1f2a6b" stroke-width="2.0"/>
<circle cx="548.06" cy="1649.25" r="5.10" fill="#4557b3" stroke="#1f2a6b" stroke-width="2.0"/>
<circle cx="538.94" cy="1651.54" r="5.10" fill="#4557b3" stroke="#1f2a6b" stroke-width="2.0"/>
<circle cx="545.61" cy="1654.14" r="5.10" fill="#4557b3" stroke="#1f2a6b" stroke-width="2.0"/>
<circle cx="540.35" cy="1656.10" r="5.10" fill="#4557b3" stroke="#1f2a6b" stroke-width="2.0"/>
<line x1="527.40" y1="1647.80" x2="555.40" y2="1647.80" stroke="#1f2a6b" stroke-width="3.2" stroke-linecap="butt"/>
<line x1="527.40" y1="1682.60" x2="555.40" y2="1682.60" stroke="#000" stroke-width="3.8" stroke-linecap="butt"/>
<text transform="translate(192.70,1795.10) rotate(-45) scale(0.95,1)" font-size="25.5" text-anchor="end">Alanine</text>
<text transform="translate(252.50,1795.10) rotate(-45) scale(0.95,1)" font-size="25.5" text-anchor="end">Glucose</text>
<text transform="translate(311.90,1795.10) rotate(-45) scale(0.95,1)" font-size="25.5" text-anchor="end">Glycerolmonostearate</text>
<text transform="translate(370.60,1795.10) rotate(-45) scale(0.95,1)" font-size="25.5" text-anchor="end">Lysine</text>
<text transform="translate(430.00,1795.10) rotate(-45) scale(0.95,1)" font-size="25.5" text-anchor="end">Monopalmitin</text>
<text transform="translate(489.00,1795.10) rotate(-45) scale(0.95,1)" font-size="25.5" text-anchor="end">Glycine</text>
<text transform="translate(548.40,1795.10) rotate(-45) scale(0.95,1)" font-size="25.5" text-anchor="end">Lauric acid</text>
<line x1="648.70" y1="1538.50" x2="648.70" y2="1779.00" stroke="#000" stroke-width="3" stroke-linecap="butt"/>
<line x1="638.50" y1="1777.30" x2="1056.80" y2="1777.30" stroke="#000" stroke-width="3" stroke-linecap="butt"/>
<line x1="638.50" y1="1777.30" x2="648.70" y2="1777.30" stroke="#000" stroke-width="3" stroke-linecap="butt"/>
<line x1="638.50" y1="1717.95" x2="648.70" y2="1717.95" stroke="#000" stroke-width="3" stroke-linecap="butt"/>
<line x1="638.50" y1="1658.60" x2="648.70" y2="1658.60" stroke="#000" stroke-width="3" stroke-linecap="butt"/>
<line x1="638.50" y1="1599.25" x2="648.70" y2="1599.25" stroke="#000" stroke-width="3" stroke-linecap="butt"/>
<line x1="638.50" y1="1539.90" x2="648.70" y2="1539.90" stroke="#000" stroke-width="3" stroke-linecap="butt"/>
<text transform="translate(621.52,1787.24) rotate(0) scale(0.8400,1)" font-size="28.80">0</text>
<text transform="translate(608.09,1727.89) rotate(0) scale(0.8400,1)" font-size="28.80">20</text>
<text transform="translate(608.09,1668.54) rotate(0) scale(0.8400,1)" font-size="28.80">40</text>
<text transform="translate(608.09,1609.19) rotate(0) scale(0.8400,1)" font-size="28.80">60</text>
<text transform="translate(608.09,1549.84) rotate(0) scale(0.8400,1)" font-size="28.80">80</text>
<line x1="676.80" y1="1777.30" x2="676.80" y2="1767.00" stroke="#000" stroke-width="3" stroke-linecap="butt"/>
<line x1="734.70" y1="1777.30" x2="734.70" y2="1767.00" stroke="#000" stroke-width="3" stroke-linecap="butt"/>
<line x1="793.30" y1="1777.30" x2="793.30" y2="1767.00" stroke="#000" stroke-width="3" stroke-linecap="butt"/>
<line x1="851.60" y1="1777.30" x2="851.60" y2="1767.00" stroke="#000" stroke-width="3" stroke-linecap="butt"/>
<line x1="909.40" y1="1777.30" x2="909.40" y2="1767.00" stroke="#000" stroke-width="3" stroke-linecap="butt"/>
<line x1="968.00" y1="1777.30" x2="968.00" y2="1767.00" stroke="#000" stroke-width="3" stroke-linecap="butt"/>
<line x1="1025.90" y1="1777.30" x2="1025.90" y2="1767.00" stroke="#000" stroke-width="3" stroke-linecap="butt"/>
<circle cx="672.94" cy="1673.00" r="5.40" fill="none" stroke="#a2a2a2" stroke-width="1.5"/>
<circle cx="681.36" cy="1674.20" r="5.40" fill="none" stroke="#a2a2a2" stroke-width="1.5"/>
<circle cx="670.14" cy="1675.80" r="5.40" fill="none" stroke="#a2a2a2" stroke-width="1.5"/>
<circle cx="678.55" cy="1677.20" r="5.40" fill="none" stroke="#a2a2a2" stroke-width="1.5"/>
<circle cx="683.46" cy="1678.50" r="5.40" fill="none" stroke="#a2a2a2" stroke-width="1.5"/>
<circle cx="674.34" cy="1680.00" r="5.40" fill="none" stroke="#a2a2a2" stroke-width="1.5"/>
<circle cx="681.01" cy="1681.60" r="5.40" fill="none" stroke="#a2a2a2" stroke-width="1.5"/>
<circle cx="675.75" cy="1683.00" r="5.40" fill="none" stroke="#a2a2a2" stroke-width="1.5"/>
<circle cx="672.94" cy="1689.40" r="5.10" fill="#4557b3" stroke="#1f2a6b" stroke-width="2.0"/>
<circle cx="681.36" cy="1691.20" r="5.10" fill="#4557b3" stroke="#1f2a6b" stroke-width="2.0"/>
<circle cx="670.14" cy="1693.00" r="5.10" fill="#4557b3" stroke="#1f2a6b" stroke-width="2.0"/>
<circle cx="678.55" cy="1694.80" r="5.10" fill="#4557b3" stroke="#1f2a6b" stroke-width="2.0"/>
<circle cx="683.46" cy="1696.36" r="5.10" fill="#4557b3" stroke="#1f2a6b" stroke-width="2.0"/>
<circle cx="674.34" cy="1698.04" r="5.10" fill="#4557b3" stroke="#1f2a6b" stroke-width="2.0"/>
<circle cx="681.01" cy="1699.96" r="5.10" fill="#4557b3" stroke="#1f2a6b" stroke-width="2.0"/>
<circle cx="675.75" cy="1701.40" r="5.10" fill="#4557b3" stroke="#1f2a6b" stroke-width="2.0"/>
<line x1="662.80" y1="1695.00" x2="690.80" y2="1695.00" stroke="#1f2a6b" stroke-width="3.2" stroke-linecap="butt"/>
<line x1="662.80" y1="1678.20" x2="690.80" y2="1678.20" stroke="#000" stroke-width="3.8" stroke-linecap="butt"/>
<text transform="translate(669.78,1682.24) rotate(0) scale(1.0000,1)" font-size="16.00">*</text>
<circle cx="730.84" cy="1697.20" r="5.40" fill="none" stroke="#a2a2a2" stroke-width="1.5"/>
<circle cx="739.26" cy="1698.17" r="5.40" fill="none" stroke="#a2a2a2" stroke-width="1.5"/>
<circle cx="728.04" cy="1699.47" r="5.40" fill="none" stroke="#a2a2a2" stroke-width="1.5"/>
<circle cx="736.45" cy="1700.60" r="5.40" fill="none" stroke="#a2a2a2" stroke-width="1.5"/>
<circle cx="741.36" cy="1701.65" r="5.40" fill="none" stroke="#a2a2a2" stroke-width="1.5"/>
<circle cx="732.24" cy="1702.87" r="5.40" fill="none" stroke="#a2a2a2" stroke-width="1.5"/>
<circle cx="738.91" cy="1704.17" r="5.40" fill="none" stroke="#a2a2a2" stroke-width="1.5"/>
<circle cx="733.65" cy="1705.30" r="5.40" fill="none" stroke="#a2a2a2" stroke-width="1.5"/>
<circle cx="730.84" cy="1717.50" r="5.10" fill="#4557b3" stroke="#1f2a6b" stroke-width="2.0"/>
<circle cx="739.26" cy="1717.90" r="5.10" fill="#4557b3" stroke="#1f2a6b" stroke-width="2.0"/>
<circle cx="728.04" cy="1718.31" r="5.10" fill="#4557b3" stroke="#1f2a6b" stroke-width="2.0"/>
<circle cx="736.45" cy="1718.71" r="5.10" fill="#4557b3" stroke="#1f2a6b" stroke-width="2.0"/>
<circle cx="741.36" cy="1719.07" r="5.10" fill="#4557b3" stroke="#1f2a6b" stroke-width="2.0"/>
<circle cx="732.24" cy="1719.44" r="5.10" fill="#4557b3" stroke="#1f2a6b" stroke-width="2.0"/>
<circle cx="738.91" cy="1719.88" r="5.10" fill="#4557b3" stroke="#1f2a6b" stroke-width="2.0"/>
<circle cx="733.65" cy="1720.20" r="5.10" fill="#4557b3" stroke="#1f2a6b" stroke-width="2.0"/>
<line x1="720.70" y1="1717.70" x2="748.70" y2="1717.70" stroke="#1f2a6b" stroke-width="3.2" stroke-linecap="butt"/>
<line x1="720.70" y1="1704.00" x2="748.70" y2="1704.00" stroke="#000" stroke-width="3.8" stroke-linecap="butt"/>
<circle cx="789.44" cy="1657.30" r="5.40" fill="none" stroke="#a2a2a2" stroke-width="1.5"/>
<circle cx="797.86" cy="1658.61" r="5.40" fill="none" stroke="#a2a2a2" stroke-width="1.5"/>
<circle cx="786.64" cy="1660.35" r="5.40" fill="none" stroke="#a2a2a2" stroke-width="1.5"/>
<circle cx="795.05" cy="1661.88" r="5.40" fill="none" stroke="#a2a2a2" stroke-width="1.5"/>
<circle cx="799.96" cy="1663.30" r="5.40" fill="none" stroke="#a2a2a2" stroke-width="1.5"/>
<circle cx="790.84" cy="1664.93" r="5.40" fill="none" stroke="#a2a2a2" stroke-width="1.5"/>
<circle cx="797.51" cy="1666.67" r="5.40" fill="none" stroke="#a2a2a2" stroke-width="1.5"/>
<circle cx="792.25" cy="1668.20" r="5.40" fill="none" stroke="#a2a2a2" stroke-width="1.5"/>
<circle cx="789.44" cy="1611.20" r="5.10" fill="#4557b3" stroke="#1f2a6b" stroke-width="2.0"/>
<circle cx="797.86" cy="1614.53" r="5.10" fill="#4557b3" stroke="#1f2a6b" stroke-width="2.0"/>
<circle cx="786.64" cy="1617.86" r="5.10" fill="#4557b3" stroke="#1f2a6b" stroke-width="2.0"/>
<circle cx="795.05" cy="1621.19" r="5.10" fill="#4557b3" stroke="#1f2a6b" stroke-width="2.0"/>
<circle cx="799.96" cy="1624.08" r="5.10" fill="#4557b3" stroke="#1f2a6b" stroke-width="2.0"/>
<circle cx="790.84" cy="1627.18" r="5.10" fill="#4557b3" stroke="#1f2a6b" stroke-width="2.0"/>
<circle cx="797.51" cy="1630.74" r="5.10" fill="#4557b3" stroke="#1f2a6b" stroke-width="2.0"/>
<circle cx="792.25" cy="1633.40" r="5.10" fill="#4557b3" stroke="#1f2a6b" stroke-width="2.0"/>
<line x1="779.30" y1="1622.70" x2="807.30" y2="1622.70" stroke="#1f2a6b" stroke-width="3.2" stroke-linecap="butt"/>
<line x1="779.30" y1="1661.80" x2="807.30" y2="1661.80" stroke="#000" stroke-width="3.8" stroke-linecap="butt"/>
<circle cx="847.74" cy="1716.50" r="5.10" fill="#4557b3" stroke="#1f2a6b" stroke-width="2.0"/>
<circle cx="856.16" cy="1716.50" r="5.10" fill="#4557b3" stroke="#1f2a6b" stroke-width="2.0"/>
<circle cx="844.94" cy="1716.50" r="5.10" fill="#4557b3" stroke="#1f2a6b" stroke-width="2.0"/>
<circle cx="853.35" cy="1716.50" r="5.10" fill="#4557b3" stroke="#1f2a6b" stroke-width="2.0"/>
<circle cx="858.26" cy="1716.50" r="5.10" fill="#4557b3" stroke="#1f2a6b" stroke-width="2.0"/>
<circle cx="849.14" cy="1716.50" r="5.10" fill="#4557b3" stroke="#1f2a6b" stroke-width="2.0"/>
<circle cx="855.81" cy="1716.50" r="5.10" fill="#4557b3" stroke="#1f2a6b" stroke-width="2.0"/>
<circle cx="850.55" cy="1716.50" r="5.10" fill="#4557b3" stroke="#1f2a6b" stroke-width="2.0"/>
<line x1="837.60" y1="1715.00" x2="865.60" y2="1715.00" stroke="#1f2a6b" stroke-width="3.2" stroke-linecap="butt"/>
<circle cx="847.74" cy="1725.40" r="5.40" fill="none" stroke="#a2a2a2" stroke-width="1.5"/>
<circle cx="856.16" cy="1726.65" r="5.40" fill="none" stroke="#a2a2a2" stroke-width="1.5"/>
<circle cx="844.94" cy="1728.31" r="5.40" fill="none" stroke="#a2a2a2" stroke-width="1.5"/>
<circle cx="853.35" cy="1729.77" r="5.40" fill="none" stroke="#a2a2a2" stroke-width="1.5"/>
<circle cx="858.26" cy="1731.12" r="5.40" fill="none" stroke="#a2a2a2" stroke-width="1.5"/>
<circle cx="849.14" cy="1732.68" r="5.40" fill="none" stroke="#a2a2a2" stroke-width="1.5"/>
<circle cx="855.81" cy="1734.34" r="5.40" fill="none" stroke="#a2a2a2" stroke-width="1.5"/>
<circle cx="850.55" cy="1735.80" r="5.40" fill="none" stroke="#a2a2a2" stroke-width="1.5"/>
<line x1="837.60" y1="1731.40" x2="865.60" y2="1731.40" stroke="#000" stroke-width="3.8" stroke-linecap="butt"/>
<circle cx="905.54" cy="1590.90" r="5.40" fill="none" stroke="#a2a2a2" stroke-width="1.5"/>
<circle cx="913.96" cy="1593.84" r="5.40" fill="none" stroke="#a2a2a2" stroke-width="1.5"/>
<circle cx="902.74" cy="1597.76" r="5.40" fill="none" stroke="#a2a2a2" stroke-width="1.5"/>
<circle cx="911.15" cy="1601.19" r="5.40" fill="none" stroke="#a2a2a2" stroke-width="1.5"/>
<circle cx="916.06" cy="1604.38" r="5.40" fill="none" stroke="#a2a2a2" stroke-width="1.5"/>
<circle cx="906.94" cy="1608.05" r="5.40" fill="none" stroke="#a2a2a2" stroke-width="1.5"/>
<circle cx="913.61" cy="1611.97" r="5.40" fill="none" stroke="#a2a2a2" stroke-width="1.5"/>
<circle cx="908.35" cy="1615.40" r="5.40" fill="none" stroke="#a2a2a2" stroke-width="1.5"/>
<circle cx="905.54" cy="1578.80" r="5.10" fill="#4557b3" stroke="#1f2a6b" stroke-width="2.0"/>
<circle cx="913.96" cy="1579.01" r="5.10" fill="#4557b3" stroke="#1f2a6b" stroke-width="2.0"/>
<circle cx="902.74" cy="1579.22" r="5.10" fill="#4557b3" stroke="#1f2a6b" stroke-width="2.0"/>
<circle cx="911.15" cy="1579.43" r="5.10" fill="#4557b3" stroke="#1f2a6b" stroke-width="2.0"/>
<circle cx="916.06" cy="1579.61" r="5.10" fill="#4557b3" stroke="#1f2a6b" stroke-width="2.0"/>
<circle cx="906.94" cy="1579.81" r="5.10" fill="#4557b3" stroke="#1f2a6b" stroke-width="2.0"/>
<circle cx="913.61" cy="1580.03" r="5.10" fill="#4557b3" stroke="#1f2a6b" stroke-width="2.0"/>
<circle cx="908.35" cy="1580.20" r="5.10" fill="#4557b3" stroke="#1f2a6b" stroke-width="2.0"/>
<line x1="895.40" y1="1582.40" x2="923.40" y2="1582.40" stroke="#1f2a6b" stroke-width="3.2" stroke-linecap="butt"/>
<line x1="895.40" y1="1603.10" x2="923.40" y2="1603.10" stroke="#000" stroke-width="3.8" stroke-linecap="butt"/>
<circle cx="964.14" cy="1716.90" r="5.10" fill="#4557b3" stroke="#1f2a6b" stroke-width="2.0"/>
<circle cx="972.56" cy="1716.90" r="5.10" fill="#4557b3" stroke="#1f2a6b" stroke-width="2.0"/>
<circle cx="961.34" cy="1716.90" r="5.10" fill="#4557b3" stroke="#1f2a6b" stroke-width="2.0"/>
<circle cx="969.75" cy="1716.90" r="5.10" fill="#4557b3" stroke="#1f2a6b" stroke-width="2.0"/>
<circle cx="974.66" cy="1716.90" r="5.10" fill="#4557b3" stroke="#1f2a6b" stroke-width="2.0"/>
<circle cx="965.54" cy="1716.90" r="5.10" fill="#4557b3" stroke="#1f2a6b" stroke-width="2.0"/>
<circle cx="972.21" cy="1716.90" r="5.10" fill="#4557b3" stroke="#1f2a6b" stroke-width="2.0"/>
<circle cx="966.95" cy="1716.90" r="5.10" fill="#4557b3" stroke="#1f2a6b" stroke-width="2.0"/>
<line x1="954.00" y1="1716.00" x2="982.00" y2="1716.00" stroke="#1f2a6b" stroke-width="3.2" stroke-linecap="butt"/>
<circle cx="964.14" cy="1725.40" r="5.40" fill="none" stroke="#a2a2a2" stroke-width="1.5"/>
<circle cx="972.56" cy="1725.71" r="5.40" fill="none" stroke="#a2a2a2" stroke-width="1.5"/>
<circle cx="961.34" cy="1726.13" r="5.40" fill="none" stroke="#a2a2a2" stroke-width="1.5"/>
<circle cx="969.75" cy="1726.49" r="5.40" fill="none" stroke="#a2a2a2" stroke-width="1.5"/>
<circle cx="974.66" cy="1726.83" r="5.40" fill="none" stroke="#a2a2a2" stroke-width="1.5"/>
<circle cx="965.54" cy="1727.22" r="5.40" fill="none" stroke="#a2a2a2" stroke-width="1.5"/>
<circle cx="972.21" cy="1727.64" r="5.40" fill="none" stroke="#a2a2a2" stroke-width="1.5"/>
<circle cx="966.95" cy="1728.00" r="5.40" fill="none" stroke="#a2a2a2" stroke-width="1.5"/>
<line x1="954.00" y1="1726.30" x2="982.00" y2="1726.30" stroke="#000" stroke-width="3.8" stroke-linecap="butt"/>
<circle cx="1022.04" cy="1726.70" r="5.10" fill="#4557b3" stroke="#1f2a6b" stroke-width="2.0"/>
<circle cx="1030.46" cy="1726.70" r="5.10" fill="#4557b3" stroke="#1f2a6b" stroke-width="2.0"/>
<circle cx="1019.24" cy="1726.70" r="5.10" fill="#4557b3" stroke="#1f2a6b" stroke-width="2.0"/>
<circle cx="1027.65" cy="1726.70" r="5.10" fill="#4557b3" stroke="#1f2a6b" stroke-width="2.0"/>
<circle cx="1032.56" cy="1726.70" r="5.10" fill="#4557b3" stroke="#1f2a6b" stroke-width="2.0"/>
<circle cx="1023.44" cy="1726.70" r="5.10" fill="#4557b3" stroke="#1f2a6b" stroke-width="2.0"/>
<circle cx="1030.11" cy="1726.70" r="5.10" fill="#4557b3" stroke="#1f2a6b" stroke-width="2.0"/>
<circle cx="1024.85" cy="1726.70" r="5.10" fill="#4557b3" stroke="#1f2a6b" stroke-width="2.0"/>
<line x1="1011.90" y1="1727.00" x2="1039.90" y2="1727.00" stroke="#1f2a6b" stroke-width="3.2" stroke-linecap="butt"/>
<circle cx="1022.04" cy="1730.40" r="5.40" fill="none" stroke="#a2a2a2" stroke-width="1.5"/>
<circle cx="1030.46" cy="1730.95" r="5.40" fill="none" stroke="#a2a2a2" stroke-width="1.5"/>
<circle cx="1019.24" cy="1731.69" r="5.40" fill="none" stroke="#a2a2a2" stroke-width="1.5"/>
<circle cx="1027.65" cy="1732.33" r="5.40" fill="none" stroke="#a2a2a2" stroke-width="1.5"/>
<circle cx="1032.56" cy="1732.93" r="5.40" fill="none" stroke="#a2a2a2" stroke-width="1.5"/>
<circle cx="1023.44" cy="1733.62" r="5.40" fill="none" stroke="#a2a2a2" stroke-width="1.5"/>
<circle cx="1030.11" cy="1734.36" r="5.40" fill="none" stroke="#a2a2a2" stroke-width="1.5"/>
<circle cx="1024.85" cy="1735.00" r="5.40" fill="none" stroke="#a2a2a2" stroke-width="1.5"/>
<line x1="1011.90" y1="1734.10" x2="1039.90" y2="1734.10" stroke="#000" stroke-width="3.8" stroke-linecap="butt"/>
<text transform="translate(683.80,1794.80) rotate(-45) scale(0.95,1)" font-size="25.5" text-anchor="end">Glutamic acid</text>
<text transform="translate(741.70,1794.80) rotate(-45) scale(0.95,1)" font-size="25.5" text-anchor="end">Glucosamine</text>
<text transform="translate(800.30,1794.80) rotate(-45) scale(0.95,1)" font-size="25.5" text-anchor="end">Ornithine</text>
<text transform="translate(858.60,1794.80) rotate(-45) scale(0.95,1)" font-size="25.5" text-anchor="end">Palmitic acid</text>
<text transform="translate(916.40,1794.80) rotate(-45) scale(0.95,1)" font-size="25.5" text-anchor="end">Proline</text>
<text transform="translate(975.00,1794.80) rotate(-45) scale(0.95,1)" font-size="25.5" text-anchor="end">Putrescine</text>
<text transform="translate(1032.90,1794.80) rotate(-45) scale(0.95,1)" font-size="25.5" text-anchor="end">Adenosine</text>
<circle cx="979.80" cy="1526.90" r="5.60" fill="none" stroke="#a2a2a2" stroke-width="1.8"/>
<text transform="translate(992.76,1534.70) scale(0.8715,1)" font-size="27.86">PA-S16</text>
<circle cx="979.80" cy="1557.00" r="5.60" fill="#4557b3" stroke="#1f2a6b" stroke-width="2"/>
<text transform="translate(992.79,1565.00) scale(0.8570,1)" font-size="27.86">PA-R16</text>
<text transform="translate(1074.96,1573.80) scale(1.0220,1)" font-size="14.00">SCF</text>
<text transform="translate(1089.11,1196.60) scale(0.9431,1)" font-size="29.28" font-weight="bold">E</text>
<text transform="translate(1291.44,1233.40) scale(0.8162,1)" font-size="35.86">Glucose</text>
<text transform="translate(1132.00,1366.20) rotate(-90) scale(0.8432,1)" font-size="34.00" text-anchor="middle">Normalized area</text>
<text transform="translate(1182.00,1366.20) rotate(-90) scale(0.8202,1)" font-size="34.00" text-anchor="middle">(×10<tspan font-size="21.08" dy="-14.28">6</tspan><tspan dy="14.28">)</tspan></text>
<defs><pattern id="hatch" patternUnits="userSpaceOnUse" width="6.6" height="6.6" patternTransform="rotate(-45)"><line x1="1" y1="0" x2="1" y2="6.6" stroke="#3b4035" stroke-width="1.7"/></pattern></defs>
<rect x="1246.10" y="1269.60" width="33.00" height="220.90" fill="#c4c5e7"/>
<rect x="1246.10" y="1269.60" width="33.00" height="220.90" fill="url(#hatch)"/>
<rect x="1246.10" y="1269.60" width="33.00" height="220.90" fill="none" stroke="#000" stroke-width="2.4"/>
<rect x="1288.30" y="1338.20" width="33.20" height="152.30" fill="#c1c3e5"/>
<rect x="1288.30" y="1338.20" width="33.20" height="152.30" fill="none" stroke="#000" stroke-width="2.4"/>
<rect x="1370.80" y="1297.10" width="33.40" height="193.40" fill="#8b8ecf"/>
<rect x="1370.80" y="1297.10" width="33.40" height="193.40" fill="url(#hatch)"/>
<rect x="1370.80" y="1297.10" width="33.40" height="193.40" fill="none" stroke="#000" stroke-width="2.4"/>
<rect x="1413.30" y="1386.30" width="33.40" height="104.20" fill="#8a8dcd"/>
<rect x="1413.30" y="1386.30" width="33.40" height="104.20" fill="none" stroke="#000" stroke-width="2.4"/>
<line x1="1262.70" y1="1263.50" x2="1262.70" y2="1273.50" stroke="#2b44a8" stroke-width="2.8" stroke-linecap="butt"/>
<line x1="1255.20" y1="1263.50" x2="1270.20" y2="1263.50" stroke="#2b44a8" stroke-width="2.8" stroke-linecap="butt"/>
<line x1="1255.20" y1="1273.50" x2="1270.20" y2="1273.50" stroke="#2b44a8" stroke-width="2.8" stroke-linecap="butt"/>
<line x1="1305.20" y1="1318.70" x2="1305.20" y2="1355.70" stroke="#2b44a8" stroke-width="2.8" stroke-linecap="butt"/>
<line x1="1297.70" y1="1318.70" x2="1312.70" y2="1318.70" stroke="#2b44a8" stroke-width="2.8" stroke-linecap="butt"/>
<line x1="1297.70" y1="1355.70" x2="1312.70" y2="1355.70" stroke="#2b44a8" stroke-width="2.8" stroke-linecap="butt"/>
<line x1="1387.70" y1="1293.00" x2="1387.70" y2="1303.60" stroke="#2b44a8" stroke-width="2.8" stroke-linecap="butt"/>
<line x1="1380.20" y1="1293.00" x2="1395.20" y2="1293.00" stroke="#2b44a8" stroke-width="2.8" stroke-linecap="butt"/>
<line x1="1380.20" y1="1303.60" x2="1395.20" y2="1303.60" stroke="#2b44a8" stroke-width="2.8" stroke-linecap="butt"/>
<line x1="1430.00" y1="1362.60" x2="1430.00" y2="1407.70" stroke="#2b44a8" stroke-width="2.8" stroke-linecap="butt"/>
<line x1="1422.50" y1="1362.60" x2="1437.50" y2="1362.60" stroke="#2b44a8" stroke-width="2.8" stroke-linecap="butt"/>
<line x1="1422.50" y1="1407.70" x2="1437.50" y2="1407.70" stroke="#2b44a8" stroke-width="2.8" stroke-linecap="butt"/>
<circle cx="1262.50" cy="1259.30" r="5.30" fill="#c5c6e8" stroke="#000" stroke-width="2"/>
<circle cx="1253.20" cy="1265.90" r="5.30" fill="#c5c6e8" stroke="#000" stroke-width="2"/>
<circle cx="1256.50" cy="1266.90" r="5.30" fill="#c5c6e8" stroke="#000" stroke-width="2"/>
<circle cx="1269.10" cy="1265.50" r="5.30" fill="#c5c6e8" stroke="#000" stroke-width="2"/>
<circle cx="1273.00" cy="1266.20" r="5.30" fill="#c5c6e8" stroke="#000" stroke-width="2"/>
<circle cx="1265.10" cy="1273.10" r="5.30" fill="#c5c6e8" stroke="#000" stroke-width="2"/>
<circle cx="1262.50" cy="1278.40" r="5.30" fill="#c5c6e8" stroke="#000" stroke-width="2"/>
<circle cx="1296.80" cy="1315.40" r="5.30" fill="#c5c6e8" stroke="#000" stroke-width="2"/>
<circle cx="1313.00" cy="1312.10" r="5.30" fill="#c5c6e8" stroke="#000" stroke-width="2"/>
<circle cx="1296.80" cy="1334.30" r="5.30" fill="#c5c6e8" stroke="#000" stroke-width="2"/>
<circle cx="1301.50" cy="1335.90" r="5.30" fill="#c5c6e8" stroke="#000" stroke-width="2"/>
<circle cx="1312.70" cy="1334.60" r="5.30" fill="#c5c6e8" stroke="#000" stroke-width="2"/>
<circle cx="1309.10" cy="1340.50" r="5.30" fill="#c5c6e8" stroke="#000" stroke-width="2"/>
<circle cx="1296.80" cy="1364.30" r="5.30" fill="#c5c6e8" stroke="#000" stroke-width="2"/>
<circle cx="1313.00" cy="1361.70" r="5.30" fill="#c5c6e8" stroke="#000" stroke-width="2"/>
<circle cx="1384.40" cy="1281.00" r="5.30" fill="#8f93d0" stroke="#000" stroke-width="2"/>
<circle cx="1378.30" cy="1284.90" r="5.30" fill="#8f93d0" stroke="#000" stroke-width="2"/>
<circle cx="1383.60" cy="1286.90" r="5.30" fill="#8f93d0" stroke="#000" stroke-width="2"/>
<circle cx="1395.00" cy="1286.10" r="5.30" fill="#8f93d0" stroke="#000" stroke-width="2"/>
<circle cx="1378.70" cy="1303.60" r="5.30" fill="#8f93d0" stroke="#000" stroke-width="2"/>
<circle cx="1395.80" cy="1300.70" r="5.30" fill="#8f93d0" stroke="#000" stroke-width="2"/>
<circle cx="1383.20" cy="1308.50" r="5.30" fill="#8f93d0" stroke="#000" stroke-width="2"/>
<circle cx="1391.70" cy="1308.50" r="5.30" fill="#8f93d0" stroke="#000" stroke-width="2"/>
<circle cx="1413.70" cy="1366.70" r="5.30" fill="#8f93d0" stroke="#000" stroke-width="2"/>
<circle cx="1421.80" cy="1371.90" r="5.30" fill="#8f93d0" stroke="#000" stroke-width="2"/>
<circle cx="1425.90" cy="1377.20" r="5.30" fill="#8f93d0" stroke="#000" stroke-width="2"/>
<circle cx="1438.10" cy="1375.20" r="5.30" fill="#8f93d0" stroke="#000" stroke-width="2"/>
<circle cx="1446.20" cy="1364.20" r="5.30" fill="#8f93d0" stroke="#000" stroke-width="2"/>
<circle cx="1434.00" cy="1385.80" r="5.30" fill="#8f93d0" stroke="#000" stroke-width="2"/>
<circle cx="1421.80" cy="1420.80" r="5.30" fill="#8f93d0" stroke="#000" stroke-width="2"/>
<circle cx="1438.10" cy="1419.10" r="5.30" fill="#8f93d0" stroke="#000" stroke-width="2"/>
<line x1="1227.90" y1="1245.50" x2="1227.90" y2="1492.00" stroke="#000" stroke-width="3" stroke-linecap="butt"/>
<line x1="1218.20" y1="1490.50" x2="1466.30" y2="1490.50" stroke="#000" stroke-width="3" stroke-linecap="butt"/>
<line x1="1218.40" y1="1490.50" x2="1227.90" y2="1490.50" stroke="#000" stroke-width="3" stroke-linecap="butt"/>
<line x1="1218.40" y1="1409.30" x2="1227.90" y2="1409.30" stroke="#000" stroke-width="3" stroke-linecap="butt"/>
<line x1="1218.40" y1="1328.10" x2="1227.90" y2="1328.10" stroke="#000" stroke-width="3" stroke-linecap="butt"/>
<line x1="1218.40" y1="1246.90" x2="1227.90" y2="1246.90" stroke="#000" stroke-width="3" stroke-linecap="butt"/>
<text transform="translate(1200.80,1255.10) scale(1.1107,1)" font-size="23.43">6</text>
<text transform="translate(1200.17,1336.30) scale(1.1247,1)" font-size="23.77">4</text>
<text transform="translate(1200.10,1417.50) scale(1.1914,1)" font-size="23.43">2</text>
<text transform="translate(1200.44,1498.70) scale(1.1293,1)" font-size="23.43">0</text>
<text transform="translate(1237.97,1512.40) scale(0.9842,1)" font-size="15.57">PA-S8</text>
<text transform="translate(1284.48,1512.40) scale(0.9785,1)" font-size="15.57">PA-R8</text>
<text transform="translate(1328.00,1516.50) scale(0.8877,1)" font-size="10.00">SCF</text>
<text transform="translate(1357.82,1512.40) scale(0.9485,1)" font-size="15.57">PA-S16</text>
<text transform="translate(1414.01,1512.40) scale(0.9560,1)" font-size="15.57">PA-R16</text>
<text transform="translate(1464.80,1516.50) scale(0.8877,1)" font-size="10.00">SCF</text>
<text transform="translate(178.57,1679.72) rotate(0) scale(1.0000,1)" font-size="15.00">*</text>
<text transform="translate(399.07,1196.22) rotate(0) scale(1.0000,1)" font-size="15.00">*</text>
<text transform="translate(443.27,1205.22) rotate(0) scale(1.0000,1)" font-size="15.00">*</text>
<text transform="translate(669.08,1239.72) rotate(0) scale(1.0000,1)" font-size="15.00">*</text>
</svg></body></html>
